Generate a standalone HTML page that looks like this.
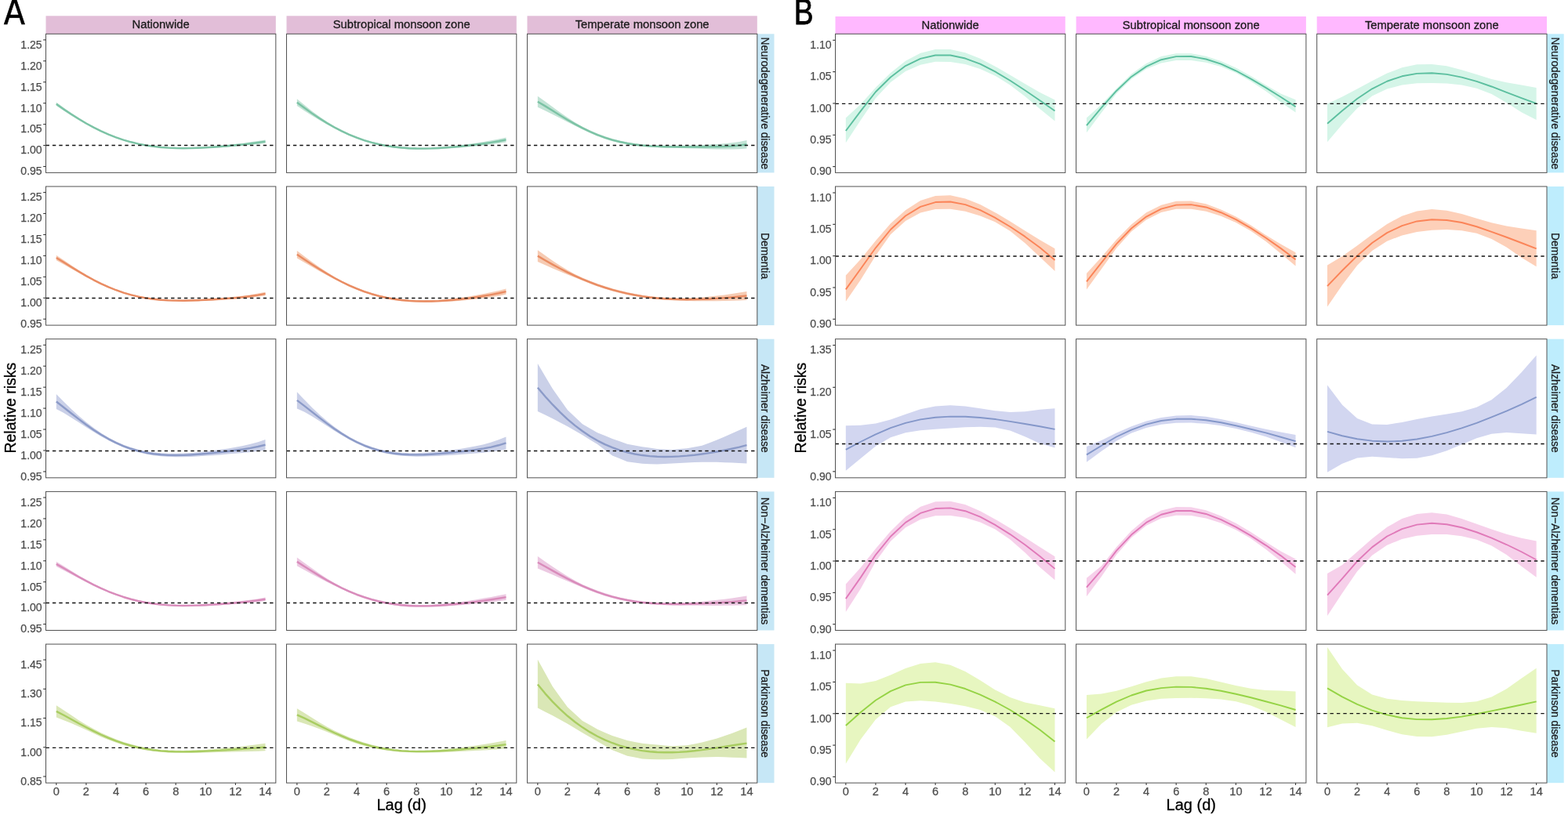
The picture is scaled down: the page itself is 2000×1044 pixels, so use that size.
<!DOCTYPE html>
<html><head><meta charset="utf-8"><title>Relative risks by lag</title>
<style>html,body{margin:0;padding:0;background:#fff;width:2000px;height:1044px;overflow:hidden}</style>
</head><body>
<svg width="2000" height="1044" viewBox="0 0 2000 1044" style="display:block">
<rect width="2000" height="1044" fill="#fff"/>
<text x="0" y="0" style="font-family:'DejaVu Sans','Liberation Sans',sans-serif;font-size:44px" fill="#000" stroke="#000" stroke-width="0.5" transform="translate(4.7 31.2) scale(0.905 1)">A</text>
<text x="0" y="0" style="font-family:'Liberation Sans',Arial,Helvetica,sans-serif;font-size:47px" fill="#000" stroke="#000" stroke-width="0.9" transform="translate(1012.8 30.5) scale(0.79 1)">B</text>
<rect x="58.5" y="20.3" width="293.3" height="23" fill="#e2bed8"/>
<text x="205.15" y="36.4" text-anchor="middle" textLength="73.12" lengthAdjust="spacingAndGlyphs" style="font-family:'Liberation Sans',Arial,Helvetica,sans-serif;font-size:15.2px" fill="#1a1a1a" stroke="#1a1a1a" stroke-width="0.3">Nationwide</text>
<rect x="365.5" y="20.3" width="293.3" height="23" fill="#e2bed8"/>
<text x="512.15" y="36.4" text-anchor="middle" textLength="175.01" lengthAdjust="spacingAndGlyphs" style="font-family:'Liberation Sans',Arial,Helvetica,sans-serif;font-size:15.2px" fill="#1a1a1a" stroke="#1a1a1a" stroke-width="0.3">Subtropical monsoon zone</text>
<rect x="672.5" y="20.3" width="293.3" height="23" fill="#e2bed8"/>
<text x="819.15" y="36.4" text-anchor="middle" textLength="170.89" lengthAdjust="spacingAndGlyphs" style="font-family:'Liberation Sans',Arial,Helvetica,sans-serif;font-size:15.2px" fill="#1a1a1a" stroke="#1a1a1a" stroke-width="0.3">Temperate monsoon zone</text>
<rect x="965.8" y="43.3" width="21.7" height="177.1" fill="#c6e7f6"/>
<text x="0" y="0" text-anchor="middle" textLength="168.78" lengthAdjust="spacingAndGlyphs" transform="translate(971.45 131.85) rotate(90)" style="font-family:'Liberation Sans',Arial,Helvetica,sans-serif;font-size:14.8px" fill="#1a1a1a" stroke="#1a1a1a" stroke-width="0.25">Neurodegenerative disease</text>
<rect x="965.8" y="238" width="21.7" height="177.1" fill="#c6e7f6"/>
<text x="0" y="0" text-anchor="middle" textLength="59.06" lengthAdjust="spacingAndGlyphs" transform="translate(971.45 326.55) rotate(90)" style="font-family:'Liberation Sans',Arial,Helvetica,sans-serif;font-size:14.8px" fill="#1a1a1a" stroke="#1a1a1a" stroke-width="0.25">Dementia</text>
<rect x="965.8" y="432.7" width="21.7" height="177.1" fill="#c6e7f6"/>
<text x="0" y="0" text-anchor="middle" textLength="112.75" lengthAdjust="spacingAndGlyphs" transform="translate(971.45 521.25) rotate(90)" style="font-family:'Liberation Sans',Arial,Helvetica,sans-serif;font-size:14.8px" fill="#1a1a1a" stroke="#1a1a1a" stroke-width="0.25">Alzheimer disease</text>
<rect x="965.8" y="627.4" width="21.7" height="177.1" fill="#c6e7f6"/>
<text x="0" y="0" text-anchor="middle" textLength="162.23" lengthAdjust="spacingAndGlyphs" transform="translate(971.45 715.95) rotate(90)" style="font-family:'Liberation Sans',Arial,Helvetica,sans-serif;font-size:14.8px" fill="#1a1a1a" stroke="#1a1a1a" stroke-width="0.25">Non−Alzheimer dementias</text>
<rect x="965.8" y="822.1" width="21.7" height="177.1" fill="#c6e7f6"/>
<text x="0" y="0" text-anchor="middle" textLength="112.77" lengthAdjust="spacingAndGlyphs" transform="translate(971.45 910.65) rotate(90)" style="font-family:'Liberation Sans',Arial,Helvetica,sans-serif;font-size:14.8px" fill="#1a1a1a" stroke="#1a1a1a" stroke-width="0.25">Parkinson disease</text>
<clipPath id="cA00"><rect x="58.5" y="43.3" width="293.3" height="177.1"/></clipPath>
<g clip-path="url(#cA00)">
<path d="M71.83 130.61 L81.35 137.53 L90.88 144.18 L100.4 150.46 L109.92 156.31 L119.45 161.66 L128.97 166.45 L138.49 170.68 L148.01 174.41 L157.54 177.65 L167.06 180.41 L176.58 182.7 L186.1 184.55 L195.63 185.99 L205.15 187.05 L214.67 187.77 L224.2 188.18 L233.72 188.31 L243.24 188.2 L252.76 187.86 L262.29 187.33 L271.81 186.63 L281.33 185.8 L290.85 184.84 L300.38 183.79 L309.9 182.63 L319.42 181.37 L328.95 179.98 L338.47 178.44 L338.47 182.9 L328.95 184.07 L319.42 185.09 L309.9 186.01 L300.38 186.83 L290.85 187.58 L281.33 188.26 L271.81 188.86 L262.29 189.36 L252.76 189.75 L243.24 190 L233.72 190.08 L224.2 189.94 L214.67 189.53 L205.15 188.82 L195.63 187.76 L186.1 186.32 L176.58 184.47 L167.06 182.17 L157.54 179.42 L148.01 176.18 L138.49 172.44 L128.97 168.22 L119.45 163.58 L109.92 158.56 L100.4 153.17 L90.88 147.42 L81.35 141.36 L71.83 135.03Z" fill="#c2e3d5"/>
<path d="M71.83 132.82 L81.35 139.44 L90.88 145.8 L100.4 151.82 L109.92 157.44 L119.45 162.62 L128.97 167.33 L138.49 171.56 L148.01 175.29 L157.54 178.53 L167.06 181.29 L176.58 183.58 L186.1 185.44 L195.63 186.88 L205.15 187.94 L214.67 188.65 L224.2 189.06 L233.72 189.2 L243.24 189.1 L252.76 188.8 L262.29 188.34 L271.81 187.74 L281.33 187.03 L290.85 186.21 L300.38 185.31 L309.9 184.32 L319.42 183.23 L328.95 182.02 L338.47 180.67" fill="none" stroke="#7cc3a5" stroke-width="2.4" stroke-linejoin="round"/>
<line x1="58.5" x2="351.8" y1="185.5" y2="185.5" stroke="#121212" stroke-width="1.35" stroke-dasharray="4.4 4.0"/>
</g>
<rect x="58.5" y="43.3" width="293.3" height="177.1" fill="none" stroke="#525252" stroke-width="1"/>
<clipPath id="cA01"><rect x="365.5" y="43.3" width="293.3" height="177.1"/></clipPath>
<g clip-path="url(#cA01)">
<path d="M378.83 126.25 L388.35 134.12 L397.88 141.65 L407.4 148.72 L416.92 155.24 L426.45 161.1 L435.97 166.24 L445.49 170.66 L455.01 174.54 L464.54 177.88 L474.06 180.71 L483.58 183.05 L493.1 184.91 L502.63 186.34 L512.15 187.37 L521.67 188.03 L531.2 188.36 L540.72 188.41 L550.24 188.19 L559.76 187.72 L569.29 187.02 L578.81 186.13 L588.33 185.07 L597.85 183.86 L607.38 182.51 L616.9 181.02 L626.42 179.36 L635.95 177.53 L645.47 175.48 L645.47 181.38 L635.95 182.95 L626.42 184.3 L616.9 185.49 L607.38 186.55 L597.85 187.5 L588.33 188.34 L578.81 189.09 L569.29 189.72 L559.76 190.22 L550.24 190.58 L540.72 190.77 L531.2 190.72 L521.67 190.38 L512.15 189.72 L502.63 188.69 L493.1 187.26 L483.58 185.4 L474.06 183.06 L464.54 180.23 L455.01 176.89 L445.49 173.01 L435.97 168.61 L426.45 163.85 L416.92 158.78 L407.4 153.37 L397.88 147.62 L388.35 141.52 L378.83 135.09Z" fill="#c2e3d5"/>
<path d="M378.83 130.67 L388.35 137.82 L397.88 144.63 L407.4 151.05 L416.92 157.01 L426.45 162.47 L435.97 167.42 L445.49 171.84 L455.01 175.71 L464.54 179.06 L474.06 181.89 L483.58 184.22 L493.1 186.09 L502.63 187.52 L512.15 188.54 L521.67 189.2 L531.2 189.54 L540.72 189.59 L550.24 189.39 L559.76 188.97 L569.29 188.37 L578.81 187.61 L588.33 186.71 L597.85 185.68 L607.38 184.53 L616.9 183.25 L626.42 181.83 L635.95 180.24 L645.47 178.43" fill="none" stroke="#7cc3a5" stroke-width="2.4" stroke-linejoin="round"/>
<line x1="365.5" x2="658.8" y1="185.5" y2="185.5" stroke="#121212" stroke-width="1.35" stroke-dasharray="4.4 4.0"/>
</g>
<rect x="365.5" y="43.3" width="293.3" height="177.1" fill="none" stroke="#525252" stroke-width="1"/>
<clipPath id="cA02"><rect x="672.5" y="43.3" width="293.3" height="177.1"/></clipPath>
<g clip-path="url(#cA02)">
<path d="M685.83 122.67 L695.35 129.48 L704.88 136.51 L714.4 143.48 L723.92 150.12 L733.45 156.23 L742.97 161.63 L752.49 166.27 L762.01 170.38 L771.54 173.94 L781.06 176.94 L790.58 179.42 L800.1 181.41 L809.63 182.95 L819.15 184.09 L828.67 184.89 L838.2 185.43 L847.72 185.75 L857.24 185.89 L866.76 185.84 L876.29 185.66 L885.81 185.38 L895.33 185.02 L904.85 184.57 L914.38 184.01 L923.9 183.28 L933.42 182.3 L942.95 180.96 L952.47 179.1 L952.47 189.44 L942.95 190.26 L933.42 190.59 L923.9 190.6 L914.38 190.42 L904.85 190.14 L895.33 189.84 L885.81 189.56 L876.29 189.31 L866.76 189.1 L857.24 188.9 L847.72 188.69 L838.2 188.37 L828.67 187.85 L819.15 187.07 L809.63 185.96 L800.1 184.47 L790.58 182.54 L781.06 180.13 L771.54 177.19 L762.01 173.73 L752.49 169.72 L742.97 165.22 L733.45 160.51 L723.92 155.72 L714.4 150.87 L704.88 146.03 L695.35 141.3 L685.83 136.81Z" fill="#c2e3d5"/>
<path d="M685.83 129.74 L695.35 135.39 L704.88 141.27 L714.4 147.17 L723.92 152.92 L733.45 158.37 L742.97 163.42 L752.49 168 L762.01 172.05 L771.54 175.57 L781.06 178.54 L790.58 180.98 L800.1 182.94 L809.63 184.45 L819.15 185.58 L828.67 186.37 L838.2 186.9 L847.72 187.22 L857.24 187.4 L866.76 187.47 L876.29 187.49 L885.81 187.47 L895.33 187.43 L904.85 187.36 L914.38 187.21 L923.9 186.94 L933.42 186.45 L942.95 185.61 L952.47 184.27" fill="none" stroke="#7cc3a5" stroke-width="2.4" stroke-linejoin="round"/>
<line x1="672.5" x2="965.8" y1="185.5" y2="185.5" stroke="#121212" stroke-width="1.35" stroke-dasharray="4.4 4.0"/>
</g>
<rect x="672.5" y="43.3" width="293.3" height="177.1" fill="none" stroke="#525252" stroke-width="1"/>
<line x1="55.2" x2="58.5" y1="212.5" y2="212.5" stroke="#333" stroke-width="1.1"/>
<text x="53.7" y="223.3" text-anchor="end" textLength="27.4" lengthAdjust="spacingAndGlyphs" style="font-family:'Liberation Sans',Arial,Helvetica,sans-serif;font-size:15.2px" fill="#4d4d4d" stroke="#4d4d4d" stroke-width="0.25">0.95</text>
<line x1="55.2" x2="58.5" y1="185.57" y2="185.57" stroke="#333" stroke-width="1.1"/>
<text x="53.7" y="196.37" text-anchor="end" textLength="27.4" lengthAdjust="spacingAndGlyphs" style="font-family:'Liberation Sans',Arial,Helvetica,sans-serif;font-size:15.2px" fill="#4d4d4d" stroke="#4d4d4d" stroke-width="0.25">1.00</text>
<line x1="55.2" x2="58.5" y1="158.63" y2="158.63" stroke="#333" stroke-width="1.1"/>
<text x="53.7" y="169.43" text-anchor="end" textLength="27.4" lengthAdjust="spacingAndGlyphs" style="font-family:'Liberation Sans',Arial,Helvetica,sans-serif;font-size:15.2px" fill="#4d4d4d" stroke="#4d4d4d" stroke-width="0.25">1.05</text>
<line x1="55.2" x2="58.5" y1="131.7" y2="131.7" stroke="#333" stroke-width="1.1"/>
<text x="53.7" y="142.5" text-anchor="end" textLength="27.4" lengthAdjust="spacingAndGlyphs" style="font-family:'Liberation Sans',Arial,Helvetica,sans-serif;font-size:15.2px" fill="#4d4d4d" stroke="#4d4d4d" stroke-width="0.25">1.10</text>
<line x1="55.2" x2="58.5" y1="104.77" y2="104.77" stroke="#333" stroke-width="1.1"/>
<text x="53.7" y="115.57" text-anchor="end" textLength="27.4" lengthAdjust="spacingAndGlyphs" style="font-family:'Liberation Sans',Arial,Helvetica,sans-serif;font-size:15.2px" fill="#4d4d4d" stroke="#4d4d4d" stroke-width="0.25">1.15</text>
<line x1="55.2" x2="58.5" y1="77.83" y2="77.83" stroke="#333" stroke-width="1.1"/>
<text x="53.7" y="88.63" text-anchor="end" textLength="27.4" lengthAdjust="spacingAndGlyphs" style="font-family:'Liberation Sans',Arial,Helvetica,sans-serif;font-size:15.2px" fill="#4d4d4d" stroke="#4d4d4d" stroke-width="0.25">1.20</text>
<line x1="55.2" x2="58.5" y1="50.9" y2="50.9" stroke="#333" stroke-width="1.1"/>
<text x="53.7" y="61.7" text-anchor="end" textLength="27.4" lengthAdjust="spacingAndGlyphs" style="font-family:'Liberation Sans',Arial,Helvetica,sans-serif;font-size:15.2px" fill="#4d4d4d" stroke="#4d4d4d" stroke-width="0.25">1.25</text>
<clipPath id="cA10"><rect x="58.5" y="238" width="293.3" height="177.1"/></clipPath>
<g clip-path="url(#cA10)">
<path d="M71.83 325.76 L81.35 332.1 L90.88 338.49 L100.4 344.73 L109.92 350.66 L119.45 356.14 L128.97 361.06 L138.49 365.39 L148.01 369.21 L157.54 372.51 L167.06 375.29 L176.58 377.57 L186.1 379.37 L195.63 380.73 L205.15 381.69 L214.67 382.3 L224.2 382.6 L233.72 382.66 L243.24 382.49 L252.76 382.14 L262.29 381.63 L271.81 381 L281.33 380.27 L290.85 379.44 L300.38 378.49 L309.9 377.41 L319.42 376.13 L328.95 374.6 L338.47 372.7 L338.47 377.13 L328.95 378.7 L319.42 379.92 L309.9 380.88 L300.38 381.68 L290.85 382.35 L281.33 382.94 L271.81 383.46 L262.29 383.92 L252.76 384.3 L243.24 384.58 L233.72 384.71 L224.2 384.66 L214.67 384.35 L205.15 383.75 L195.63 382.78 L186.1 381.42 L176.58 379.62 L167.06 377.35 L157.54 374.57 L148.01 371.27 L138.49 367.45 L128.97 363.13 L119.45 358.47 L109.92 353.53 L100.4 348.36 L90.88 343.01 L81.35 337.6 L71.83 332.24Z" fill="#f6cbb3"/>
<path d="M71.83 329 L81.35 334.85 L90.88 340.75 L100.4 346.54 L109.92 352.1 L119.45 357.31 L128.97 362.1 L138.49 366.42 L148.01 370.24 L157.54 373.54 L167.06 376.32 L176.58 378.6 L186.1 380.4 L195.63 381.76 L205.15 382.72 L214.67 383.33 L224.2 383.63 L233.72 383.69 L243.24 383.53 L252.76 383.22 L262.29 382.78 L271.81 382.23 L281.33 381.6 L290.85 380.89 L300.38 380.08 L309.9 379.15 L319.42 378.03 L328.95 376.65 L338.47 374.91" fill="none" stroke="#e98c63" stroke-width="2.4" stroke-linejoin="round"/>
<line x1="58.5" x2="351.8" y1="380.5" y2="380.5" stroke="#121212" stroke-width="1.35" stroke-dasharray="4.4 4.0"/>
</g>
<rect x="58.5" y="238" width="293.3" height="177.1" fill="none" stroke="#525252" stroke-width="1"/>
<clipPath id="cA11"><rect x="365.5" y="238" width="293.3" height="177.1"/></clipPath>
<g clip-path="url(#cA11)">
<path d="M378.83 320.1 L388.35 327.17 L397.88 334.17 L407.4 340.94 L416.92 347.31 L426.45 353.18 L435.97 358.42 L445.49 363.03 L455.01 367.15 L464.54 370.77 L474.06 373.9 L483.58 376.54 L493.1 378.7 L502.63 380.4 L512.15 381.67 L521.67 382.55 L531.2 383.06 L540.72 383.25 L550.24 383.11 L559.76 382.66 L569.29 381.94 L578.81 380.97 L588.33 379.78 L597.85 378.39 L607.38 376.82 L616.9 375.05 L626.42 373.1 L635.95 370.92 L645.47 368.48 L645.47 375.86 L635.95 377.65 L626.42 379.19 L616.9 380.54 L607.38 381.71 L597.85 382.75 L588.33 383.65 L578.81 384.42 L569.29 385.05 L559.76 385.52 L550.24 385.81 L540.72 385.89 L531.2 385.71 L521.67 385.2 L512.15 384.32 L502.63 383.05 L493.1 381.34 L483.58 379.18 L474.06 376.55 L464.54 373.42 L455.01 369.79 L445.49 365.67 L435.97 361.09 L426.45 356.24 L416.92 351.21 L407.4 345.99 L397.88 340.6 L388.35 335.1 L378.83 329.53Z" fill="#f6cbb3"/>
<path d="M378.83 324.81 L388.35 331.13 L397.88 337.39 L407.4 343.46 L416.92 349.26 L426.45 354.71 L435.97 359.76 L445.49 364.35 L455.01 368.47 L464.54 372.1 L474.06 375.22 L483.58 377.86 L493.1 380.02 L502.63 381.72 L512.15 383 L521.67 383.87 L531.2 384.39 L540.72 384.57 L550.24 384.46 L559.76 384.09 L569.29 383.49 L578.81 382.7 L588.33 381.72 L597.85 380.57 L607.38 379.27 L616.9 377.79 L626.42 376.14 L635.95 374.28 L645.47 372.17" fill="none" stroke="#e98c63" stroke-width="2.4" stroke-linejoin="round"/>
<line x1="365.5" x2="658.8" y1="380.5" y2="380.5" stroke="#121212" stroke-width="1.35" stroke-dasharray="4.4 4.0"/>
</g>
<rect x="365.5" y="238" width="293.3" height="177.1" fill="none" stroke="#525252" stroke-width="1"/>
<clipPath id="cA12"><rect x="672.5" y="238" width="293.3" height="177.1"/></clipPath>
<g clip-path="url(#cA12)">
<path d="M685.83 319.24 L695.35 326.07 L704.88 332.66 L714.4 338.91 L723.92 344.71 L733.45 349.95 L742.97 354.53 L752.49 358.5 L762.01 362.11 L771.54 365.37 L781.06 368.28 L790.58 370.86 L800.1 373.1 L809.63 375.03 L819.15 376.64 L828.67 377.96 L838.2 379 L847.72 379.77 L857.24 380.27 L866.76 380.45 L876.29 380.34 L885.81 379.98 L895.33 379.38 L904.85 378.56 L914.38 377.56 L923.9 376.39 L933.42 375.06 L942.95 373.6 L952.47 372.01 L952.47 382.94 L942.95 383.41 L933.42 383.79 L923.9 384.07 L914.38 384.26 L904.85 384.35 L895.33 384.35 L885.81 384.26 L876.29 384.05 L866.76 383.73 L857.24 383.29 L847.72 382.71 L838.2 381.94 L828.67 380.92 L819.15 379.62 L809.63 378.04 L800.1 376.17 L790.58 373.98 L781.06 371.46 L771.54 368.62 L762.01 365.45 L752.49 361.95 L742.97 358.12 L733.45 354.26 L723.92 350.41 L714.4 346.51 L704.88 342.51 L695.35 338.34 L685.83 333.97Z" fill="#f6cbb3"/>
<path d="M685.83 326.6 L695.35 332.2 L704.88 337.59 L714.4 342.71 L723.92 347.56 L733.45 352.1 L742.97 356.33 L752.49 360.22 L762.01 363.78 L771.54 367 L781.06 369.87 L790.58 372.42 L800.1 374.63 L809.63 376.53 L819.15 378.13 L828.67 379.44 L838.2 380.47 L847.72 381.24 L857.24 381.78 L866.76 382.09 L876.29 382.2 L885.81 382.12 L895.33 381.86 L904.85 381.46 L914.38 380.91 L923.9 380.23 L933.42 379.43 L942.95 378.51 L952.47 377.48" fill="none" stroke="#e98c63" stroke-width="2.4" stroke-linejoin="round"/>
<line x1="672.5" x2="965.8" y1="380.5" y2="380.5" stroke="#121212" stroke-width="1.35" stroke-dasharray="4.4 4.0"/>
</g>
<rect x="672.5" y="238" width="293.3" height="177.1" fill="none" stroke="#525252" stroke-width="1"/>
<line x1="55.2" x2="58.5" y1="407.2" y2="407.2" stroke="#333" stroke-width="1.1"/>
<text x="53.7" y="418" text-anchor="end" textLength="27.4" lengthAdjust="spacingAndGlyphs" style="font-family:'Liberation Sans',Arial,Helvetica,sans-serif;font-size:15.2px" fill="#4d4d4d" stroke="#4d4d4d" stroke-width="0.25">0.95</text>
<line x1="55.2" x2="58.5" y1="380.27" y2="380.27" stroke="#333" stroke-width="1.1"/>
<text x="53.7" y="391.07" text-anchor="end" textLength="27.4" lengthAdjust="spacingAndGlyphs" style="font-family:'Liberation Sans',Arial,Helvetica,sans-serif;font-size:15.2px" fill="#4d4d4d" stroke="#4d4d4d" stroke-width="0.25">1.00</text>
<line x1="55.2" x2="58.5" y1="353.33" y2="353.33" stroke="#333" stroke-width="1.1"/>
<text x="53.7" y="364.13" text-anchor="end" textLength="27.4" lengthAdjust="spacingAndGlyphs" style="font-family:'Liberation Sans',Arial,Helvetica,sans-serif;font-size:15.2px" fill="#4d4d4d" stroke="#4d4d4d" stroke-width="0.25">1.05</text>
<line x1="55.2" x2="58.5" y1="326.4" y2="326.4" stroke="#333" stroke-width="1.1"/>
<text x="53.7" y="337.2" text-anchor="end" textLength="27.4" lengthAdjust="spacingAndGlyphs" style="font-family:'Liberation Sans',Arial,Helvetica,sans-serif;font-size:15.2px" fill="#4d4d4d" stroke="#4d4d4d" stroke-width="0.25">1.10</text>
<line x1="55.2" x2="58.5" y1="299.47" y2="299.47" stroke="#333" stroke-width="1.1"/>
<text x="53.7" y="310.27" text-anchor="end" textLength="27.4" lengthAdjust="spacingAndGlyphs" style="font-family:'Liberation Sans',Arial,Helvetica,sans-serif;font-size:15.2px" fill="#4d4d4d" stroke="#4d4d4d" stroke-width="0.25">1.15</text>
<line x1="55.2" x2="58.5" y1="272.53" y2="272.53" stroke="#333" stroke-width="1.1"/>
<text x="53.7" y="283.33" text-anchor="end" textLength="27.4" lengthAdjust="spacingAndGlyphs" style="font-family:'Liberation Sans',Arial,Helvetica,sans-serif;font-size:15.2px" fill="#4d4d4d" stroke="#4d4d4d" stroke-width="0.25">1.20</text>
<line x1="55.2" x2="58.5" y1="245.6" y2="245.6" stroke="#333" stroke-width="1.1"/>
<text x="53.7" y="256.4" text-anchor="end" textLength="27.4" lengthAdjust="spacingAndGlyphs" style="font-family:'Liberation Sans',Arial,Helvetica,sans-serif;font-size:15.2px" fill="#4d4d4d" stroke="#4d4d4d" stroke-width="0.25">1.25</text>
<clipPath id="cA20"><rect x="58.5" y="432.7" width="293.3" height="177.1"/></clipPath>
<g clip-path="url(#cA20)">
<path d="M71.83 502.98 L81.35 512.79 L90.88 522.1 L100.4 530.73 L109.92 538.74 L119.45 546.11 L128.97 552.73 L138.49 558.57 L148.01 563.56 L157.54 567.69 L167.06 571.1 L176.58 573.82 L186.1 575.88 L195.63 577.36 L205.15 578.3 L214.67 578.78 L224.2 578.84 L233.72 578.56 L243.24 577.99 L252.76 577.19 L262.29 576.22 L271.81 575.09 L281.33 573.81 L290.85 572.39 L300.38 570.8 L309.9 568.97 L319.42 566.8 L328.95 564.22 L338.47 561.12 L338.47 574.32 L328.95 575.83 L319.42 576.99 L309.9 577.94 L300.38 578.8 L290.85 579.62 L281.33 580.39 L271.81 581.13 L262.29 581.82 L252.76 582.44 L243.24 582.92 L233.72 583.2 L224.2 583.24 L214.67 582.97 L205.15 582.3 L195.63 581.17 L186.1 579.52 L176.58 577.28 L167.06 574.43 L157.54 570.93 L148.01 566.76 L138.49 562.09 L128.97 556.93 L119.45 551.3 L109.92 545.34 L100.4 539.11 L90.88 532.9 L81.35 527.11 L71.83 521.98Z" fill="#cad0e8"/>
<path d="M71.83 512.48 L81.35 519.95 L90.88 527.5 L100.4 534.92 L109.92 542.04 L119.45 548.71 L128.97 554.83 L138.49 560.33 L148.01 565.16 L157.54 569.31 L167.06 572.76 L176.58 575.55 L186.1 577.7 L195.63 579.27 L205.15 580.3 L214.67 580.87 L224.2 581.04 L233.72 580.88 L243.24 580.45 L252.76 579.82 L262.29 579.02 L271.81 578.11 L281.33 577.1 L290.85 576 L300.38 574.8 L309.9 573.45 L319.42 571.89 L328.95 570.03 L338.47 567.72" fill="none" stroke="#8c9bc8" stroke-width="2.4" stroke-linejoin="round"/>
<line x1="58.5" x2="351.8" y1="575.5" y2="575.5" stroke="#121212" stroke-width="1.35" stroke-dasharray="4.4 4.0"/>
</g>
<rect x="58.5" y="432.7" width="293.3" height="177.1" fill="none" stroke="#525252" stroke-width="1"/>
<clipPath id="cA21"><rect x="365.5" y="432.7" width="293.3" height="177.1"/></clipPath>
<g clip-path="url(#cA21)">
<path d="M378.83 500.23 L388.35 510.37 L397.88 520.03 L407.4 529 L416.92 537.29 L426.45 544.82 L435.97 551.55 L445.49 557.45 L455.01 562.53 L464.54 566.8 L474.06 570.33 L483.58 573.13 L493.1 575.26 L502.63 576.77 L512.15 577.73 L521.67 578.18 L531.2 578.2 L540.72 577.86 L550.24 577.22 L559.76 576.36 L569.29 575.32 L578.81 574.1 L588.33 572.7 L597.85 571.11 L607.38 569.3 L616.9 567.16 L626.42 564.53 L635.95 561.32 L645.47 557.38 L645.47 573.38 L635.95 575.26 L626.42 576.6 L616.9 577.63 L607.38 578.5 L597.85 579.29 L588.33 580 L578.81 580.67 L569.29 581.32 L559.76 581.89 L550.24 582.34 L540.72 582.61 L531.2 582.64 L521.67 582.37 L512.15 581.73 L502.63 580.62 L493.1 578.97 L483.58 576.72 L474.06 573.81 L464.54 570.22 L455.01 565.93 L445.49 561.03 L435.97 555.55 L426.45 549.66 L416.92 543.49 L407.4 537.25 L397.88 531.23 L388.35 525.84 L378.83 521.43Z" fill="#cad0e8"/>
<path d="M378.83 510.83 L388.35 518.11 L397.88 525.63 L407.4 533.13 L416.92 540.39 L426.45 547.24 L435.97 553.55 L445.49 559.24 L455.01 564.23 L464.54 568.51 L474.06 572.07 L483.58 574.93 L493.1 577.12 L502.63 578.7 L512.15 579.73 L521.67 580.28 L531.2 580.42 L540.72 580.23 L550.24 579.78 L559.76 579.13 L569.29 578.32 L578.81 577.39 L588.33 576.35 L597.85 575.2 L607.38 573.9 L616.9 572.39 L626.42 570.57 L635.95 568.29 L645.47 565.38" fill="none" stroke="#8c9bc8" stroke-width="2.4" stroke-linejoin="round"/>
<line x1="365.5" x2="658.8" y1="575.5" y2="575.5" stroke="#121212" stroke-width="1.35" stroke-dasharray="4.4 4.0"/>
</g>
<rect x="365.5" y="432.7" width="293.3" height="177.1" fill="none" stroke="#525252" stroke-width="1"/>
<clipPath id="cA22"><rect x="672.5" y="432.7" width="293.3" height="177.1"/></clipPath>
<g clip-path="url(#cA22)">
<path d="M685.83 463.96 L695.35 480.15 L704.88 496.33 L714.4 509.78 L723.92 523.22 L733.45 532.3 L742.97 541.37 L752.49 546.81 L762.01 552.26 L771.54 556.08 L781.06 559.91 L790.58 563.3 L800.1 566.7 L809.63 568.41 L819.15 570.13 L828.67 571.59 L838.2 573.04 L847.72 573.56 L857.24 574.07 L866.76 573.11 L876.29 572.16 L885.81 570.49 L895.33 568.81 L904.85 565.18 L914.38 561.55 L923.9 557.39 L933.42 553.22 L942.95 549.02 L952.47 544.82 L952.47 591.41 L942.95 590.96 L933.42 590.51 L923.9 590.19 L914.38 589.87 L904.85 589.77 L895.33 589.68 L885.81 590.07 L876.29 590.46 L866.76 590.97 L857.24 591.47 L847.72 592.04 L838.2 592.61 L828.67 592.24 L819.15 591.87 L809.63 590.6 L800.1 589.34 L790.58 585.36 L781.06 581.38 L771.54 574.15 L762.01 566.92 L752.49 561.13 L742.97 555.35 L733.45 549.85 L723.92 544.35 L714.4 539.26 L704.88 534.17 L695.35 529.57 L685.83 524.97Z" fill="#cad0e8"/>
<path d="M685.83 494.65 L695.35 505.94 L704.88 516.46 L714.4 526.17 L723.92 535.05 L733.45 543.1 L742.97 550.31 L752.49 556.71 L762.01 562.3 L771.54 567.13 L781.06 571.21 L790.58 574.61 L800.1 577.35 L809.63 579.48 L819.15 581.06 L828.67 582.14 L838.2 582.77 L847.72 582.99 L857.24 582.85 L866.76 582.4 L876.29 581.67 L885.81 580.7 L895.33 579.51 L904.85 578.12 L914.38 576.54 L923.9 574.77 L933.42 572.8 L942.95 570.61 L952.47 568.15" fill="none" stroke="#8c9bc8" stroke-width="2.4" stroke-linejoin="round"/>
<line x1="672.5" x2="965.8" y1="575.5" y2="575.5" stroke="#121212" stroke-width="1.35" stroke-dasharray="4.4 4.0"/>
</g>
<rect x="672.5" y="432.7" width="293.3" height="177.1" fill="none" stroke="#525252" stroke-width="1"/>
<line x1="55.2" x2="58.5" y1="601.9" y2="601.9" stroke="#333" stroke-width="1.1"/>
<text x="53.7" y="612.7" text-anchor="end" textLength="27.4" lengthAdjust="spacingAndGlyphs" style="font-family:'Liberation Sans',Arial,Helvetica,sans-serif;font-size:15.2px" fill="#4d4d4d" stroke="#4d4d4d" stroke-width="0.25">0.95</text>
<line x1="55.2" x2="58.5" y1="574.97" y2="574.97" stroke="#333" stroke-width="1.1"/>
<text x="53.7" y="585.77" text-anchor="end" textLength="27.4" lengthAdjust="spacingAndGlyphs" style="font-family:'Liberation Sans',Arial,Helvetica,sans-serif;font-size:15.2px" fill="#4d4d4d" stroke="#4d4d4d" stroke-width="0.25">1.00</text>
<line x1="55.2" x2="58.5" y1="548.03" y2="548.03" stroke="#333" stroke-width="1.1"/>
<text x="53.7" y="558.83" text-anchor="end" textLength="27.4" lengthAdjust="spacingAndGlyphs" style="font-family:'Liberation Sans',Arial,Helvetica,sans-serif;font-size:15.2px" fill="#4d4d4d" stroke="#4d4d4d" stroke-width="0.25">1.05</text>
<line x1="55.2" x2="58.5" y1="521.1" y2="521.1" stroke="#333" stroke-width="1.1"/>
<text x="53.7" y="531.9" text-anchor="end" textLength="27.4" lengthAdjust="spacingAndGlyphs" style="font-family:'Liberation Sans',Arial,Helvetica,sans-serif;font-size:15.2px" fill="#4d4d4d" stroke="#4d4d4d" stroke-width="0.25">1.10</text>
<line x1="55.2" x2="58.5" y1="494.17" y2="494.17" stroke="#333" stroke-width="1.1"/>
<text x="53.7" y="504.97" text-anchor="end" textLength="27.4" lengthAdjust="spacingAndGlyphs" style="font-family:'Liberation Sans',Arial,Helvetica,sans-serif;font-size:15.2px" fill="#4d4d4d" stroke="#4d4d4d" stroke-width="0.25">1.15</text>
<line x1="55.2" x2="58.5" y1="467.23" y2="467.23" stroke="#333" stroke-width="1.1"/>
<text x="53.7" y="478.03" text-anchor="end" textLength="27.4" lengthAdjust="spacingAndGlyphs" style="font-family:'Liberation Sans',Arial,Helvetica,sans-serif;font-size:15.2px" fill="#4d4d4d" stroke="#4d4d4d" stroke-width="0.25">1.20</text>
<line x1="55.2" x2="58.5" y1="440.3" y2="440.3" stroke="#333" stroke-width="1.1"/>
<text x="53.7" y="451.1" text-anchor="end" textLength="27.4" lengthAdjust="spacingAndGlyphs" style="font-family:'Liberation Sans',Arial,Helvetica,sans-serif;font-size:15.2px" fill="#4d4d4d" stroke="#4d4d4d" stroke-width="0.25">1.25</text>
<clipPath id="cA30"><rect x="58.5" y="627.4" width="293.3" height="177.1"/></clipPath>
<g clip-path="url(#cA30)">
<path d="M71.83 716.63 L81.35 722.57 L90.88 728.55 L100.4 734.4 L109.92 739.97 L119.45 745.15 L128.97 749.83 L138.49 753.99 L148.01 757.7 L157.54 760.95 L167.06 763.74 L176.58 766.08 L186.1 767.97 L195.63 769.45 L205.15 770.55 L214.67 771.3 L224.2 771.74 L233.72 771.91 L243.24 771.83 L252.76 771.54 L262.29 771.06 L271.81 770.43 L281.33 769.67 L290.85 768.8 L300.38 767.83 L309.9 766.75 L319.42 765.53 L328.95 764.16 L338.47 762.57 L338.47 766.99 L328.95 768.26 L319.42 769.32 L309.9 770.22 L300.38 771.01 L290.85 771.71 L281.33 772.34 L271.81 772.89 L262.29 773.35 L252.76 773.7 L243.24 773.91 L233.72 773.96 L224.2 773.8 L214.67 773.36 L205.15 772.61 L195.63 771.51 L186.1 770.03 L176.58 768.13 L167.06 765.8 L157.54 763.01 L148.01 759.75 L138.49 756.04 L128.97 751.9 L119.45 747.48 L109.92 742.84 L100.4 738.02 L90.88 733.07 L81.35 728.07 L71.83 723.11Z" fill="#ecc9e2"/>
<path d="M71.83 719.87 L81.35 725.32 L90.88 730.81 L100.4 736.21 L109.92 741.41 L119.45 746.31 L128.97 750.87 L138.49 755.01 L148.01 758.72 L157.54 761.98 L167.06 764.77 L176.58 767.1 L186.1 769 L195.63 770.48 L205.15 771.58 L214.67 772.33 L224.2 772.77 L233.72 772.94 L243.24 772.87 L252.76 772.62 L262.29 772.2 L271.81 771.66 L281.33 771 L290.85 770.26 L300.38 769.42 L309.9 768.48 L319.42 767.43 L328.95 766.21 L338.47 764.78" fill="none" stroke="#d98cbb" stroke-width="2.4" stroke-linejoin="round"/>
<line x1="58.5" x2="351.8" y1="769.5" y2="769.5" stroke="#121212" stroke-width="1.35" stroke-dasharray="4.4 4.0"/>
</g>
<rect x="58.5" y="627.4" width="293.3" height="177.1" fill="none" stroke="#525252" stroke-width="1"/>
<clipPath id="cA31"><rect x="365.5" y="627.4" width="293.3" height="177.1"/></clipPath>
<g clip-path="url(#cA31)">
<path d="M378.83 711.42 L388.35 718.43 L397.88 725.34 L407.4 731.99 L416.92 738.23 L426.45 743.94 L435.97 748.99 L445.49 753.38 L455.01 757.29 L464.54 760.71 L474.06 763.65 L483.58 766.11 L493.1 768.1 L502.63 769.64 L512.15 770.76 L521.67 771.49 L531.2 771.86 L540.72 771.92 L550.24 771.67 L559.76 771.12 L569.29 770.32 L578.81 769.29 L588.33 768.08 L597.85 766.71 L607.38 765.22 L616.9 763.61 L626.42 761.9 L635.95 760.08 L645.47 758.14 L645.47 766.11 L635.95 767.36 L626.42 768.51 L616.9 769.56 L607.38 770.55 L597.85 771.47 L588.33 772.32 L578.81 773.09 L569.29 773.75 L559.76 774.29 L550.24 774.67 L540.72 774.86 L531.2 774.8 L521.67 774.43 L512.15 773.7 L502.63 772.58 L493.1 771.04 L483.58 769.05 L474.06 766.59 L464.54 763.65 L455.01 760.23 L445.49 756.32 L435.97 751.95 L426.45 747.37 L416.92 742.64 L407.4 737.75 L397.88 732.72 L388.35 727.56 L378.83 722.32Z" fill="#ecc9e2"/>
<path d="M378.83 716.87 L388.35 722.99 L397.88 729.03 L407.4 734.87 L416.92 740.44 L426.45 745.66 L435.97 750.47 L445.49 754.85 L455.01 758.76 L464.54 762.18 L474.06 765.12 L483.58 767.58 L493.1 769.57 L502.63 771.11 L512.15 772.23 L521.67 772.96 L531.2 773.33 L540.72 773.39 L550.24 773.17 L559.76 772.7 L569.29 772.03 L578.81 771.19 L588.33 770.2 L597.85 769.09 L607.38 767.89 L616.9 766.59 L626.42 765.2 L635.95 763.72 L645.47 762.13" fill="none" stroke="#d98cbb" stroke-width="2.4" stroke-linejoin="round"/>
<line x1="365.5" x2="658.8" y1="769.5" y2="769.5" stroke="#121212" stroke-width="1.35" stroke-dasharray="4.4 4.0"/>
</g>
<rect x="365.5" y="627.4" width="293.3" height="177.1" fill="none" stroke="#525252" stroke-width="1"/>
<clipPath id="cA32"><rect x="672.5" y="627.4" width="293.3" height="177.1"/></clipPath>
<g clip-path="url(#cA32)">
<path d="M685.83 710.09 L695.35 716.65 L704.88 723.22 L714.4 729.6 L723.92 735.61 L733.45 741.09 L742.97 745.92 L752.49 750.07 L762.01 753.8 L771.54 757.1 L781.06 759.97 L790.58 762.41 L800.1 764.43 L809.63 766.07 L819.15 767.34 L828.67 768.29 L838.2 768.94 L847.72 769.34 L857.24 769.47 L866.76 769.34 L876.29 768.96 L885.81 768.39 L895.33 767.66 L904.85 766.79 L914.38 765.78 L923.9 764.66 L933.42 763.41 L942.95 762 L952.47 760.42 L952.47 772.23 L942.95 772.57 L933.42 772.76 L923.9 772.85 L914.38 772.88 L904.85 772.88 L895.33 772.85 L885.81 772.81 L876.29 772.75 L866.76 772.65 L857.24 772.5 L847.72 772.28 L838.2 771.89 L828.67 771.26 L819.15 770.35 L809.63 769.13 L800.1 767.56 L790.58 765.62 L781.06 763.28 L771.54 760.53 L762.01 757.36 L752.49 753.78 L742.97 749.81 L733.45 745.77 L723.92 741.72 L714.4 737.65 L704.88 733.56 L695.35 729.47 L685.83 725.41Z" fill="#ecc9e2"/>
<path d="M685.83 717.75 L695.35 723.06 L704.88 728.39 L714.4 733.62 L723.92 738.66 L733.45 743.43 L742.97 747.87 L752.49 751.93 L762.01 755.58 L771.54 758.81 L781.06 761.62 L790.58 764.01 L800.1 766 L809.63 767.6 L819.15 768.85 L828.67 769.77 L838.2 770.41 L847.72 770.81 L857.24 770.99 L866.76 771 L876.29 770.86 L885.81 770.6 L895.33 770.26 L904.85 769.83 L914.38 769.33 L923.9 768.76 L933.42 768.08 L942.95 767.29 L952.47 766.32" fill="none" stroke="#d98cbb" stroke-width="2.4" stroke-linejoin="round"/>
<line x1="672.5" x2="965.8" y1="769.5" y2="769.5" stroke="#121212" stroke-width="1.35" stroke-dasharray="4.4 4.0"/>
</g>
<rect x="672.5" y="627.4" width="293.3" height="177.1" fill="none" stroke="#525252" stroke-width="1"/>
<line x1="55.2" x2="58.5" y1="796.6" y2="796.6" stroke="#333" stroke-width="1.1"/>
<text x="53.7" y="807.4" text-anchor="end" textLength="27.4" lengthAdjust="spacingAndGlyphs" style="font-family:'Liberation Sans',Arial,Helvetica,sans-serif;font-size:15.2px" fill="#4d4d4d" stroke="#4d4d4d" stroke-width="0.25">0.95</text>
<line x1="55.2" x2="58.5" y1="769.67" y2="769.67" stroke="#333" stroke-width="1.1"/>
<text x="53.7" y="780.47" text-anchor="end" textLength="27.4" lengthAdjust="spacingAndGlyphs" style="font-family:'Liberation Sans',Arial,Helvetica,sans-serif;font-size:15.2px" fill="#4d4d4d" stroke="#4d4d4d" stroke-width="0.25">1.00</text>
<line x1="55.2" x2="58.5" y1="742.73" y2="742.73" stroke="#333" stroke-width="1.1"/>
<text x="53.7" y="753.53" text-anchor="end" textLength="27.4" lengthAdjust="spacingAndGlyphs" style="font-family:'Liberation Sans',Arial,Helvetica,sans-serif;font-size:15.2px" fill="#4d4d4d" stroke="#4d4d4d" stroke-width="0.25">1.05</text>
<line x1="55.2" x2="58.5" y1="715.8" y2="715.8" stroke="#333" stroke-width="1.1"/>
<text x="53.7" y="726.6" text-anchor="end" textLength="27.4" lengthAdjust="spacingAndGlyphs" style="font-family:'Liberation Sans',Arial,Helvetica,sans-serif;font-size:15.2px" fill="#4d4d4d" stroke="#4d4d4d" stroke-width="0.25">1.10</text>
<line x1="55.2" x2="58.5" y1="688.87" y2="688.87" stroke="#333" stroke-width="1.1"/>
<text x="53.7" y="699.67" text-anchor="end" textLength="27.4" lengthAdjust="spacingAndGlyphs" style="font-family:'Liberation Sans',Arial,Helvetica,sans-serif;font-size:15.2px" fill="#4d4d4d" stroke="#4d4d4d" stroke-width="0.25">1.15</text>
<line x1="55.2" x2="58.5" y1="661.93" y2="661.93" stroke="#333" stroke-width="1.1"/>
<text x="53.7" y="672.73" text-anchor="end" textLength="27.4" lengthAdjust="spacingAndGlyphs" style="font-family:'Liberation Sans',Arial,Helvetica,sans-serif;font-size:15.2px" fill="#4d4d4d" stroke="#4d4d4d" stroke-width="0.25">1.20</text>
<line x1="55.2" x2="58.5" y1="635" y2="635" stroke="#333" stroke-width="1.1"/>
<text x="53.7" y="645.8" text-anchor="end" textLength="27.4" lengthAdjust="spacingAndGlyphs" style="font-family:'Liberation Sans',Arial,Helvetica,sans-serif;font-size:15.2px" fill="#4d4d4d" stroke="#4d4d4d" stroke-width="0.25">1.25</text>
<clipPath id="cA40"><rect x="58.5" y="822.1" width="293.3" height="177.1"/></clipPath>
<g clip-path="url(#cA40)">
<path d="M71.83 900.19 L81.35 906.42 L90.88 912.84 L100.4 919.14 L109.92 925.04 L119.45 930.32 L128.97 935.14 L138.49 939.54 L148.01 943.48 L157.54 946.93 L167.06 949.87 L176.58 952.31 L186.1 954.27 L195.63 955.76 L205.15 956.83 L214.67 957.51 L224.2 957.86 L233.72 957.9 L243.24 957.68 L252.76 957.26 L262.29 956.68 L271.81 955.97 L281.33 955.17 L290.85 954.31 L300.38 953.39 L309.9 952.4 L319.42 951.32 L328.95 950.12 L338.47 948.72 L338.47 958.18 L328.95 958.65 L319.42 958.99 L309.9 959.26 L300.38 959.51 L290.85 959.76 L281.33 960.03 L271.81 960.29 L262.29 960.55 L252.76 960.77 L243.24 960.92 L233.72 960.95 L224.2 960.81 L214.67 960.46 L205.15 959.83 L195.63 958.87 L186.1 957.53 L176.58 955.78 L167.06 953.6 L157.54 950.96 L148.01 947.87 L138.49 944.33 L128.97 940.38 L119.45 936.06 L109.92 931.56 L100.4 927.24 L90.88 923.1 L81.35 919.18 L71.83 915.51Z" fill="#dae7b6"/>
<path d="M71.83 907.85 L81.35 912.8 L90.88 917.97 L100.4 923.19 L109.92 928.3 L119.45 933.19 L128.97 937.76 L138.49 941.94 L148.01 945.68 L157.54 948.95 L167.06 951.74 L176.58 954.05 L186.1 955.9 L195.63 957.31 L205.15 958.33 L214.67 958.99 L224.2 959.33 L233.72 959.42 L243.24 959.3 L252.76 959.02 L262.29 958.61 L271.81 958.13 L281.33 957.6 L290.85 957.04 L300.38 956.45 L309.9 955.83 L319.42 955.16 L328.95 954.39 L338.47 953.45" fill="none" stroke="#a9cd62" stroke-width="2.4" stroke-linejoin="round"/>
<line x1="58.5" x2="351.8" y1="954.3" y2="954.3" stroke="#121212" stroke-width="1.35" stroke-dasharray="4.4 4.0"/>
</g>
<rect x="58.5" y="822.1" width="293.3" height="177.1" fill="none" stroke="#525252" stroke-width="1"/>
<clipPath id="cA41"><rect x="365.5" y="822.1" width="293.3" height="177.1"/></clipPath>
<g clip-path="url(#cA41)">
<path d="M378.83 904.19 L388.35 910.02 L397.88 916.05 L407.4 921.98 L416.92 927.5 L426.45 932.39 L435.97 936.84 L445.49 940.92 L455.01 944.57 L464.54 947.76 L474.06 950.49 L483.58 952.74 L493.1 954.53 L502.63 955.88 L512.15 956.83 L521.67 957.4 L531.2 957.64 L540.72 957.56 L550.24 957.21 L559.76 956.63 L569.29 955.86 L578.81 954.94 L588.33 953.88 L597.85 952.72 L607.38 951.45 L616.9 950.07 L626.42 948.55 L635.95 946.86 L645.47 944.92 L645.47 955.25 L635.95 956.17 L626.42 956.89 L616.9 957.51 L607.38 958.05 L597.85 958.55 L588.33 959.03 L578.81 959.48 L569.29 959.89 L559.76 960.23 L550.24 960.49 L540.72 960.62 L531.2 960.59 L521.67 960.35 L512.15 959.83 L502.63 958.99 L493.1 957.79 L483.58 956.2 L474.06 954.2 L464.54 951.78 L455.01 948.94 L445.49 945.69 L435.97 942.07 L426.45 938.12 L416.92 934.05 L407.4 930.25 L397.88 926.7 L388.35 923.4 L378.83 920.39Z" fill="#dae7b6"/>
<path d="M378.83 912.29 L388.35 916.71 L397.88 921.37 L407.4 926.11 L416.92 930.78 L426.45 935.26 L435.97 939.46 L445.49 943.3 L455.01 946.75 L464.54 949.77 L474.06 952.34 L483.58 954.47 L493.1 956.16 L502.63 957.43 L512.15 958.33 L521.67 958.87 L531.2 959.12 L540.72 959.09 L550.24 958.85 L559.76 958.43 L569.29 957.87 L578.81 957.21 L588.33 956.46 L597.85 955.64 L607.38 954.75 L616.9 953.79 L626.42 952.72 L635.95 951.51 L645.47 950.08" fill="none" stroke="#a9cd62" stroke-width="2.4" stroke-linejoin="round"/>
<line x1="365.5" x2="658.8" y1="954.3" y2="954.3" stroke="#121212" stroke-width="1.35" stroke-dasharray="4.4 4.0"/>
</g>
<rect x="365.5" y="822.1" width="293.3" height="177.1" fill="none" stroke="#525252" stroke-width="1"/>
<clipPath id="cA42"><rect x="672.5" y="822.1" width="293.3" height="177.1"/></clipPath>
<g clip-path="url(#cA42)">
<path d="M685.83 841.76 L695.35 859.04 L704.88 876.31 L714.4 889.39 L723.92 902.47 L733.45 911.18 L742.97 919.9 L752.49 925.34 L762.01 930.79 L771.54 934.9 L781.06 939.01 L790.58 942.01 L800.1 945.01 L809.63 946.9 L819.15 948.79 L828.67 949.67 L838.2 950.55 L847.72 951.43 L857.24 952.3 L866.76 951.83 L876.29 951.35 L885.81 949.49 L895.33 947.62 L904.85 945.06 L914.38 942.5 L923.9 939.21 L933.42 935.92 L942.95 932.21 L952.47 928.49 L952.47 967.45 L942.95 967.07 L933.42 966.7 L923.9 966.34 L914.38 965.98 L904.85 966.2 L895.33 966.42 L885.81 966.99 L876.29 967.55 L866.76 968.23 L857.24 968.91 L847.72 969.13 L838.2 969.35 L828.67 968.92 L819.15 968.48 L809.63 966.62 L800.1 964.76 L790.58 960.98 L781.06 957.2 L771.54 951.71 L762.01 946.22 L752.49 940.78 L742.97 935.34 L733.45 929.49 L723.92 923.64 L714.4 918.49 L704.88 913.34 L695.35 908.42 L685.83 903.5Z" fill="#dae7b6"/>
<path d="M685.83 873.47 L695.35 885.1 L704.88 895.65 L714.4 905.2 L723.92 913.79 L733.45 921.49 L742.97 928.35 L752.49 934.41 L762.01 939.71 L771.54 944.31 L781.06 948.24 L790.58 951.55 L800.1 954.26 L809.63 956.43 L819.15 958.08 L828.67 959.25 L838.2 959.98 L847.72 960.31 L857.24 960.26 L866.76 959.89 L876.29 959.22 L885.81 958.31 L895.33 957.18 L904.85 955.88 L914.38 954.46 L923.9 952.97 L933.42 951.46 L942.95 949.98 L952.47 948.58" fill="none" stroke="#a9cd62" stroke-width="2.4" stroke-linejoin="round"/>
<line x1="672.5" x2="965.8" y1="954.3" y2="954.3" stroke="#121212" stroke-width="1.35" stroke-dasharray="4.4 4.0"/>
</g>
<rect x="672.5" y="822.1" width="293.3" height="177.1" fill="none" stroke="#525252" stroke-width="1"/>
<line x1="55.2" x2="58.5" y1="991" y2="991" stroke="#333" stroke-width="1.1"/>
<text x="53.7" y="1001.8" text-anchor="end" textLength="27.4" lengthAdjust="spacingAndGlyphs" style="font-family:'Liberation Sans',Arial,Helvetica,sans-serif;font-size:15.2px" fill="#4d4d4d" stroke="#4d4d4d" stroke-width="0.25">0.85</text>
<line x1="55.2" x2="58.5" y1="953.77" y2="953.77" stroke="#333" stroke-width="1.1"/>
<text x="53.7" y="964.57" text-anchor="end" textLength="27.4" lengthAdjust="spacingAndGlyphs" style="font-family:'Liberation Sans',Arial,Helvetica,sans-serif;font-size:15.2px" fill="#4d4d4d" stroke="#4d4d4d" stroke-width="0.25">1.00</text>
<line x1="55.2" x2="58.5" y1="916.55" y2="916.55" stroke="#333" stroke-width="1.1"/>
<text x="53.7" y="927.35" text-anchor="end" textLength="27.4" lengthAdjust="spacingAndGlyphs" style="font-family:'Liberation Sans',Arial,Helvetica,sans-serif;font-size:15.2px" fill="#4d4d4d" stroke="#4d4d4d" stroke-width="0.25">1.15</text>
<line x1="55.2" x2="58.5" y1="879.33" y2="879.33" stroke="#333" stroke-width="1.1"/>
<text x="53.7" y="890.12" text-anchor="end" textLength="27.4" lengthAdjust="spacingAndGlyphs" style="font-family:'Liberation Sans',Arial,Helvetica,sans-serif;font-size:15.2px" fill="#4d4d4d" stroke="#4d4d4d" stroke-width="0.25">1.30</text>
<line x1="55.2" x2="58.5" y1="842.1" y2="842.1" stroke="#333" stroke-width="1.1"/>
<text x="53.7" y="852.9" text-anchor="end" textLength="27.4" lengthAdjust="spacingAndGlyphs" style="font-family:'Liberation Sans',Arial,Helvetica,sans-serif;font-size:15.2px" fill="#4d4d4d" stroke="#4d4d4d" stroke-width="0.25">1.45</text>
<line x1="71.83" x2="71.83" y1="999.2" y2="1002" stroke="#333" stroke-width="1.1"/>
<text x="71.83" y="1014.9" text-anchor="middle" style="font-family:'Liberation Sans',Arial,Helvetica,sans-serif;font-size:14.6px" fill="#4d4d4d" stroke="#4d4d4d" stroke-width="0.25">0</text>
<line x1="109.92" x2="109.92" y1="999.2" y2="1002" stroke="#333" stroke-width="1.1"/>
<text x="109.92" y="1014.9" text-anchor="middle" style="font-family:'Liberation Sans',Arial,Helvetica,sans-serif;font-size:14.6px" fill="#4d4d4d" stroke="#4d4d4d" stroke-width="0.25">2</text>
<line x1="148.01" x2="148.01" y1="999.2" y2="1002" stroke="#333" stroke-width="1.1"/>
<text x="148.01" y="1014.9" text-anchor="middle" style="font-family:'Liberation Sans',Arial,Helvetica,sans-serif;font-size:14.6px" fill="#4d4d4d" stroke="#4d4d4d" stroke-width="0.25">4</text>
<line x1="186.1" x2="186.1" y1="999.2" y2="1002" stroke="#333" stroke-width="1.1"/>
<text x="186.1" y="1014.9" text-anchor="middle" style="font-family:'Liberation Sans',Arial,Helvetica,sans-serif;font-size:14.6px" fill="#4d4d4d" stroke="#4d4d4d" stroke-width="0.25">6</text>
<line x1="224.2" x2="224.2" y1="999.2" y2="1002" stroke="#333" stroke-width="1.1"/>
<text x="224.2" y="1014.9" text-anchor="middle" style="font-family:'Liberation Sans',Arial,Helvetica,sans-serif;font-size:14.6px" fill="#4d4d4d" stroke="#4d4d4d" stroke-width="0.25">8</text>
<line x1="262.29" x2="262.29" y1="999.2" y2="1002" stroke="#333" stroke-width="1.1"/>
<text x="262.29" y="1014.9" text-anchor="middle" style="font-family:'Liberation Sans',Arial,Helvetica,sans-serif;font-size:14.6px" fill="#4d4d4d" stroke="#4d4d4d" stroke-width="0.25">10</text>
<line x1="300.38" x2="300.38" y1="999.2" y2="1002" stroke="#333" stroke-width="1.1"/>
<text x="300.38" y="1014.9" text-anchor="middle" style="font-family:'Liberation Sans',Arial,Helvetica,sans-serif;font-size:14.6px" fill="#4d4d4d" stroke="#4d4d4d" stroke-width="0.25">12</text>
<line x1="338.47" x2="338.47" y1="999.2" y2="1002" stroke="#333" stroke-width="1.1"/>
<text x="338.47" y="1014.9" text-anchor="middle" style="font-family:'Liberation Sans',Arial,Helvetica,sans-serif;font-size:14.6px" fill="#4d4d4d" stroke="#4d4d4d" stroke-width="0.25">14</text>
<line x1="378.83" x2="378.83" y1="999.2" y2="1002" stroke="#333" stroke-width="1.1"/>
<text x="378.83" y="1014.9" text-anchor="middle" style="font-family:'Liberation Sans',Arial,Helvetica,sans-serif;font-size:14.6px" fill="#4d4d4d" stroke="#4d4d4d" stroke-width="0.25">0</text>
<line x1="416.92" x2="416.92" y1="999.2" y2="1002" stroke="#333" stroke-width="1.1"/>
<text x="416.92" y="1014.9" text-anchor="middle" style="font-family:'Liberation Sans',Arial,Helvetica,sans-serif;font-size:14.6px" fill="#4d4d4d" stroke="#4d4d4d" stroke-width="0.25">2</text>
<line x1="455.01" x2="455.01" y1="999.2" y2="1002" stroke="#333" stroke-width="1.1"/>
<text x="455.01" y="1014.9" text-anchor="middle" style="font-family:'Liberation Sans',Arial,Helvetica,sans-serif;font-size:14.6px" fill="#4d4d4d" stroke="#4d4d4d" stroke-width="0.25">4</text>
<line x1="493.1" x2="493.1" y1="999.2" y2="1002" stroke="#333" stroke-width="1.1"/>
<text x="493.1" y="1014.9" text-anchor="middle" style="font-family:'Liberation Sans',Arial,Helvetica,sans-serif;font-size:14.6px" fill="#4d4d4d" stroke="#4d4d4d" stroke-width="0.25">6</text>
<line x1="531.2" x2="531.2" y1="999.2" y2="1002" stroke="#333" stroke-width="1.1"/>
<text x="531.2" y="1014.9" text-anchor="middle" style="font-family:'Liberation Sans',Arial,Helvetica,sans-serif;font-size:14.6px" fill="#4d4d4d" stroke="#4d4d4d" stroke-width="0.25">8</text>
<line x1="569.29" x2="569.29" y1="999.2" y2="1002" stroke="#333" stroke-width="1.1"/>
<text x="569.29" y="1014.9" text-anchor="middle" style="font-family:'Liberation Sans',Arial,Helvetica,sans-serif;font-size:14.6px" fill="#4d4d4d" stroke="#4d4d4d" stroke-width="0.25">10</text>
<line x1="607.38" x2="607.38" y1="999.2" y2="1002" stroke="#333" stroke-width="1.1"/>
<text x="607.38" y="1014.9" text-anchor="middle" style="font-family:'Liberation Sans',Arial,Helvetica,sans-serif;font-size:14.6px" fill="#4d4d4d" stroke="#4d4d4d" stroke-width="0.25">12</text>
<line x1="645.47" x2="645.47" y1="999.2" y2="1002" stroke="#333" stroke-width="1.1"/>
<text x="645.47" y="1014.9" text-anchor="middle" style="font-family:'Liberation Sans',Arial,Helvetica,sans-serif;font-size:14.6px" fill="#4d4d4d" stroke="#4d4d4d" stroke-width="0.25">14</text>
<line x1="685.83" x2="685.83" y1="999.2" y2="1002" stroke="#333" stroke-width="1.1"/>
<text x="685.83" y="1014.9" text-anchor="middle" style="font-family:'Liberation Sans',Arial,Helvetica,sans-serif;font-size:14.6px" fill="#4d4d4d" stroke="#4d4d4d" stroke-width="0.25">0</text>
<line x1="723.92" x2="723.92" y1="999.2" y2="1002" stroke="#333" stroke-width="1.1"/>
<text x="723.92" y="1014.9" text-anchor="middle" style="font-family:'Liberation Sans',Arial,Helvetica,sans-serif;font-size:14.6px" fill="#4d4d4d" stroke="#4d4d4d" stroke-width="0.25">2</text>
<line x1="762.01" x2="762.01" y1="999.2" y2="1002" stroke="#333" stroke-width="1.1"/>
<text x="762.01" y="1014.9" text-anchor="middle" style="font-family:'Liberation Sans',Arial,Helvetica,sans-serif;font-size:14.6px" fill="#4d4d4d" stroke="#4d4d4d" stroke-width="0.25">4</text>
<line x1="800.1" x2="800.1" y1="999.2" y2="1002" stroke="#333" stroke-width="1.1"/>
<text x="800.1" y="1014.9" text-anchor="middle" style="font-family:'Liberation Sans',Arial,Helvetica,sans-serif;font-size:14.6px" fill="#4d4d4d" stroke="#4d4d4d" stroke-width="0.25">6</text>
<line x1="838.2" x2="838.2" y1="999.2" y2="1002" stroke="#333" stroke-width="1.1"/>
<text x="838.2" y="1014.9" text-anchor="middle" style="font-family:'Liberation Sans',Arial,Helvetica,sans-serif;font-size:14.6px" fill="#4d4d4d" stroke="#4d4d4d" stroke-width="0.25">8</text>
<line x1="876.29" x2="876.29" y1="999.2" y2="1002" stroke="#333" stroke-width="1.1"/>
<text x="876.29" y="1014.9" text-anchor="middle" style="font-family:'Liberation Sans',Arial,Helvetica,sans-serif;font-size:14.6px" fill="#4d4d4d" stroke="#4d4d4d" stroke-width="0.25">10</text>
<line x1="914.38" x2="914.38" y1="999.2" y2="1002" stroke="#333" stroke-width="1.1"/>
<text x="914.38" y="1014.9" text-anchor="middle" style="font-family:'Liberation Sans',Arial,Helvetica,sans-serif;font-size:14.6px" fill="#4d4d4d" stroke="#4d4d4d" stroke-width="0.25">12</text>
<line x1="952.47" x2="952.47" y1="999.2" y2="1002" stroke="#333" stroke-width="1.1"/>
<text x="952.47" y="1014.9" text-anchor="middle" style="font-family:'Liberation Sans',Arial,Helvetica,sans-serif;font-size:14.6px" fill="#4d4d4d" stroke="#4d4d4d" stroke-width="0.25">14</text>
<text x="512.15" y="1034.4" text-anchor="middle" style="font-family:'Liberation Sans',Arial,Helvetica,sans-serif;font-size:20px" fill="#000" stroke="#000" stroke-width="0.3">Lag (d)</text>
<text x="0" y="0" text-anchor="middle" transform="translate(19.8 520.65) rotate(-90)" style="font-family:'Liberation Sans',Arial,Helvetica,sans-serif;font-size:19.5px" fill="#000" stroke="#000" stroke-width="0.3">Relative risks</text>
<rect x="1065.5" y="21" width="293.3" height="22.3" fill="#ffb8ff"/>
<text x="1212.15" y="37.2" text-anchor="middle" textLength="73.12" lengthAdjust="spacingAndGlyphs" style="font-family:'Liberation Sans',Arial,Helvetica,sans-serif;font-size:15.2px" fill="#1a1a1a" stroke="#1a1a1a" stroke-width="0.3">Nationwide</text>
<rect x="1372.6" y="21" width="293.3" height="22.3" fill="#ffb8ff"/>
<text x="1519.25" y="37.2" text-anchor="middle" textLength="175.01" lengthAdjust="spacingAndGlyphs" style="font-family:'Liberation Sans',Arial,Helvetica,sans-serif;font-size:15.2px" fill="#1a1a1a" stroke="#1a1a1a" stroke-width="0.3">Subtropical monsoon zone</text>
<rect x="1679.7" y="21" width="293.3" height="22.3" fill="#ffb8ff"/>
<text x="1826.35" y="37.2" text-anchor="middle" textLength="170.89" lengthAdjust="spacingAndGlyphs" style="font-family:'Liberation Sans',Arial,Helvetica,sans-serif;font-size:15.2px" fill="#1a1a1a" stroke="#1a1a1a" stroke-width="0.3">Temperate monsoon zone</text>
<rect x="1973" y="43.3" width="21.7" height="177.1" fill="#beedfd"/>
<text x="0" y="0" text-anchor="middle" textLength="168.78" lengthAdjust="spacingAndGlyphs" transform="translate(1978.65 131.85) rotate(90)" style="font-family:'Liberation Sans',Arial,Helvetica,sans-serif;font-size:14.8px" fill="#1a1a1a" stroke="#1a1a1a" stroke-width="0.25">Neurodegenerative disease</text>
<rect x="1973" y="238" width="21.7" height="177.1" fill="#beedfd"/>
<text x="0" y="0" text-anchor="middle" textLength="59.06" lengthAdjust="spacingAndGlyphs" transform="translate(1978.65 326.55) rotate(90)" style="font-family:'Liberation Sans',Arial,Helvetica,sans-serif;font-size:14.8px" fill="#1a1a1a" stroke="#1a1a1a" stroke-width="0.25">Dementia</text>
<rect x="1973" y="432.7" width="21.7" height="177.1" fill="#beedfd"/>
<text x="0" y="0" text-anchor="middle" textLength="112.75" lengthAdjust="spacingAndGlyphs" transform="translate(1978.65 521.25) rotate(90)" style="font-family:'Liberation Sans',Arial,Helvetica,sans-serif;font-size:14.8px" fill="#1a1a1a" stroke="#1a1a1a" stroke-width="0.25">Alzheimer disease</text>
<rect x="1973" y="627.4" width="21.7" height="177.1" fill="#beedfd"/>
<text x="0" y="0" text-anchor="middle" textLength="162.23" lengthAdjust="spacingAndGlyphs" transform="translate(1978.65 715.95) rotate(90)" style="font-family:'Liberation Sans',Arial,Helvetica,sans-serif;font-size:14.8px" fill="#1a1a1a" stroke="#1a1a1a" stroke-width="0.25">Non−Alzheimer dementias</text>
<rect x="1973" y="822.1" width="21.7" height="177.1" fill="#beedfd"/>
<text x="0" y="0" text-anchor="middle" textLength="112.77" lengthAdjust="spacingAndGlyphs" transform="translate(1978.65 910.65) rotate(90)" style="font-family:'Liberation Sans',Arial,Helvetica,sans-serif;font-size:14.8px" fill="#1a1a1a" stroke="#1a1a1a" stroke-width="0.25">Parkinson disease</text>
<clipPath id="cB00"><rect x="1065.5" y="43.3" width="293.3" height="177.1"/></clipPath>
<g clip-path="url(#cB00)">
<path d="M1078.83 150.56 L1097.88 133.07 L1116.92 111.84 L1135.97 93.12 L1155.01 77.87 L1174.06 67.74 L1193.1 63.03 L1212.15 63.12 L1231.2 67.31 L1250.24 74.73 L1269.29 84.63 L1288.33 95.7 L1307.38 107.06 L1326.42 118.08 L1345.47 127.39 L1345.47 154.55 L1326.42 138.94 L1307.38 122.93 L1288.33 108.41 L1269.29 96.67 L1250.24 87.96 L1231.2 82.08 L1212.15 78.97 L1193.1 78.87 L1174.06 82.69 L1155.01 91.11 L1135.97 104.97 L1116.92 125.2 L1097.88 153.16 L1078.83 182.31Z" fill="#d5f5e8"/>
<path d="M1078.83 167.02 L1097.88 141.6 L1116.92 117.21 L1135.97 98.49 L1155.01 84.07 L1174.06 74.9 L1193.1 70.53 L1212.15 70.53 L1231.2 74.52 L1250.24 81.61 L1269.29 91.36 L1288.33 102.75 L1307.38 115.29 L1326.42 128.21 L1345.47 141.47" fill="none" stroke="#5cbf9f" stroke-width="1.9" stroke-linejoin="round"/>
<line x1="1065.5" x2="1358.8" y1="132.4" y2="132.4" stroke="#121212" stroke-width="1.35" stroke-dasharray="4.4 4.0"/>
</g>
<rect x="1065.5" y="43.3" width="293.3" height="177.1" fill="none" stroke="#525252" stroke-width="1"/>
<clipPath id="cB01"><rect x="1372.6" y="43.3" width="293.3" height="177.1"/></clipPath>
<g clip-path="url(#cB01)">
<path d="M1385.93 150.5 L1404.98 133.35 L1424.02 112.96 L1443.07 94.53 L1462.11 81.04 L1481.16 72.05 L1500.2 68.15 L1519.25 68.25 L1538.3 71.73 L1557.34 78 L1576.39 86.55 L1595.43 97.08 L1614.48 108.58 L1633.52 119.57 L1652.57 127.36 L1652.57 143.51 L1633.52 130.28 L1614.48 116.28 L1595.43 103.65 L1576.39 93.01 L1557.34 85.06 L1538.3 79.8 L1519.25 77.05 L1500.2 76.99 L1481.16 80.38 L1462.11 88.11 L1443.07 101.06 L1424.02 119.55 L1404.98 143.76 L1385.93 169.35Z" fill="#d5f5e8"/>
<path d="M1385.93 160.14 L1404.98 137.43 L1424.02 115.95 L1443.07 97.92 L1462.11 84.89 L1481.16 76.21 L1500.2 72.08 L1519.25 72.03 L1538.3 75.52 L1557.34 81.68 L1576.39 90.28 L1595.43 100.65 L1614.48 111.9 L1633.52 123.77 L1652.57 136.09" fill="none" stroke="#5cbf9f" stroke-width="1.9" stroke-linejoin="round"/>
<line x1="1372.6" x2="1665.9" y1="132.4" y2="132.4" stroke="#121212" stroke-width="1.35" stroke-dasharray="4.4 4.0"/>
</g>
<rect x="1372.6" y="43.3" width="293.3" height="177.1" fill="none" stroke="#525252" stroke-width="1"/>
<clipPath id="cB02"><rect x="1679.7" y="43.3" width="293.3" height="177.1"/></clipPath>
<g clip-path="url(#cB02)">
<path d="M1693.03 132.44 L1712.08 123.44 L1731.12 113.6 L1750.17 103.23 L1769.21 93.5 L1788.26 86.24 L1807.3 82.27 L1826.35 81.88 L1845.4 84.27 L1864.44 89.13 L1883.49 95.1 L1902.53 100.9 L1921.58 105.3 L1940.62 108.59 L1959.67 112.09 L1959.67 152.88 L1940.62 143.22 L1921.58 131.12 L1902.53 119.91 L1883.49 112.63 L1864.44 108.58 L1845.4 106.55 L1826.35 105.89 L1807.3 106.37 L1788.26 108.45 L1769.21 113.47 L1750.17 122.48 L1731.12 138.27 L1712.08 158.83 L1693.03 181.2Z" fill="#d5f5e8"/>
<path d="M1693.03 157.79 L1712.08 141.21 L1731.12 126.07 L1750.17 113.28 L1769.21 103.76 L1788.26 97.29 L1807.3 93.92 L1826.35 93.21 L1845.4 94.89 L1864.44 98.56 L1883.49 103.87 L1902.53 110.48 L1921.58 117.79 L1940.62 125.06 L1959.67 132.13" fill="none" stroke="#5cbf9f" stroke-width="1.9" stroke-linejoin="round"/>
<line x1="1679.7" x2="1973" y1="132.4" y2="132.4" stroke="#121212" stroke-width="1.35" stroke-dasharray="4.4 4.0"/>
</g>
<rect x="1679.7" y="43.3" width="293.3" height="177.1" fill="none" stroke="#525252" stroke-width="1"/>
<line x1="1062.2" x2="1065.5" y1="212.6" y2="212.6" stroke="#333" stroke-width="1.1"/>
<text x="1060.7" y="223.4" text-anchor="end" textLength="27.4" lengthAdjust="spacingAndGlyphs" style="font-family:'Liberation Sans',Arial,Helvetica,sans-serif;font-size:15.2px" fill="#4d4d4d" stroke="#4d4d4d" stroke-width="0.25">0.90</text>
<line x1="1062.2" x2="1065.5" y1="172.28" y2="172.28" stroke="#333" stroke-width="1.1"/>
<text x="1060.7" y="183.08" text-anchor="end" textLength="27.4" lengthAdjust="spacingAndGlyphs" style="font-family:'Liberation Sans',Arial,Helvetica,sans-serif;font-size:15.2px" fill="#4d4d4d" stroke="#4d4d4d" stroke-width="0.25">0.95</text>
<line x1="1062.2" x2="1065.5" y1="131.95" y2="131.95" stroke="#333" stroke-width="1.1"/>
<text x="1060.7" y="142.75" text-anchor="end" textLength="27.4" lengthAdjust="spacingAndGlyphs" style="font-family:'Liberation Sans',Arial,Helvetica,sans-serif;font-size:15.2px" fill="#4d4d4d" stroke="#4d4d4d" stroke-width="0.25">1.00</text>
<line x1="1062.2" x2="1065.5" y1="91.62" y2="91.62" stroke="#333" stroke-width="1.1"/>
<text x="1060.7" y="102.42" text-anchor="end" textLength="27.4" lengthAdjust="spacingAndGlyphs" style="font-family:'Liberation Sans',Arial,Helvetica,sans-serif;font-size:15.2px" fill="#4d4d4d" stroke="#4d4d4d" stroke-width="0.25">1.05</text>
<line x1="1062.2" x2="1065.5" y1="51.3" y2="51.3" stroke="#333" stroke-width="1.1"/>
<text x="1060.7" y="62.1" text-anchor="end" textLength="27.4" lengthAdjust="spacingAndGlyphs" style="font-family:'Liberation Sans',Arial,Helvetica,sans-serif;font-size:15.2px" fill="#4d4d4d" stroke="#4d4d4d" stroke-width="0.25">1.10</text>
<clipPath id="cB10"><rect x="1065.5" y="238" width="293.3" height="177.1"/></clipPath>
<g clip-path="url(#cB10)">
<path d="M1078.83 351.47 L1097.88 330.73 L1116.92 307.16 L1135.97 285.27 L1155.01 268.23 L1174.06 255.99 L1193.1 249.94 L1212.15 249.32 L1231.2 253.39 L1250.24 261.04 L1269.29 271.18 L1288.33 282.61 L1307.38 294.4 L1326.42 306.18 L1345.47 317.3 L1345.47 346.11 L1326.42 328.07 L1307.38 310.17 L1288.33 294.85 L1269.29 283.26 L1250.24 275.38 L1231.2 269.63 L1212.15 266.85 L1193.1 267.05 L1174.06 271.51 L1155.01 281.92 L1135.97 299.14 L1116.92 326.2 L1097.88 357.05 L1078.83 384.82Z" fill="#fdd0b9"/>
<path d="M1078.83 369.33 L1097.88 342.95 L1116.92 316.3 L1135.97 292.98 L1155.01 275.49 L1174.06 263.85 L1193.1 258.06 L1212.15 257.48 L1231.2 261.06 L1250.24 268.18 L1269.29 277.94 L1288.33 289.28 L1307.38 301.9 L1326.42 316.03 L1345.47 332.01" fill="none" stroke="#fb8458" stroke-width="1.9" stroke-linejoin="round"/>
<line x1="1065.5" x2="1358.8" y1="327" y2="327" stroke="#121212" stroke-width="1.35" stroke-dasharray="4.4 4.0"/>
</g>
<rect x="1065.5" y="238" width="293.3" height="177.1" fill="none" stroke="#525252" stroke-width="1"/>
<clipPath id="cB11"><rect x="1372.6" y="238" width="293.3" height="177.1"/></clipPath>
<g clip-path="url(#cB11)">
<path d="M1385.93 348.92 L1404.98 328.09 L1424.02 305.72 L1443.07 286.49 L1462.11 271.34 L1481.16 261.64 L1500.2 256.76 L1519.25 256.56 L1538.3 260.32 L1557.34 267.5 L1576.39 276.55 L1595.43 287.61 L1614.48 299.89 L1633.52 311.57 L1652.57 322.36 L1652.57 339.4 L1633.52 323.42 L1614.48 308 L1595.43 294.84 L1576.39 283.96 L1557.34 275.63 L1538.3 269.79 L1519.25 266.72 L1500.2 266.87 L1481.16 271.06 L1462.11 280.4 L1443.07 295.45 L1424.02 316.81 L1404.98 343.23 L1385.93 369.46Z" fill="#fdd0b9"/>
<path d="M1385.93 359.45 L1404.98 335.18 L1424.02 311.44 L1443.07 291.47 L1462.11 276.56 L1481.16 266.59 L1500.2 261.6 L1519.25 261.17 L1538.3 264.47 L1557.34 271.23 L1576.39 280.17 L1595.43 291.13 L1614.48 303.5 L1633.52 316.88 L1652.57 331.17" fill="none" stroke="#fb8458" stroke-width="1.9" stroke-linejoin="round"/>
<line x1="1372.6" x2="1665.9" y1="327" y2="327" stroke="#121212" stroke-width="1.35" stroke-dasharray="4.4 4.0"/>
</g>
<rect x="1372.6" y="238" width="293.3" height="177.1" fill="none" stroke="#525252" stroke-width="1"/>
<clipPath id="cB12"><rect x="1679.7" y="238" width="293.3" height="177.1"/></clipPath>
<g clip-path="url(#cB12)">
<path d="M1693.03 338.53 L1712.08 326.99 L1731.12 313.62 L1750.17 299.23 L1769.21 285.94 L1788.26 275.67 L1807.3 269.4 L1826.35 267.04 L1845.4 268.65 L1864.44 272.98 L1883.49 278.78 L1902.53 284.18 L1921.58 288.46 L1940.62 291.51 L1959.67 294.34 L1959.67 340.23 L1940.62 328.63 L1921.58 315.58 L1902.53 305.01 L1883.49 297.78 L1864.44 294.27 L1845.4 293.1 L1826.35 293.69 L1807.3 296.1 L1788.26 300.39 L1769.21 307.81 L1750.17 319.99 L1731.12 338.78 L1712.08 363.77 L1693.03 391.62Z" fill="#fdd0b9"/>
<path d="M1693.03 365.17 L1712.08 345.22 L1731.12 326.48 L1750.17 309.99 L1769.21 297.12 L1788.26 288.09 L1807.3 282.46 L1826.35 280.19 L1845.4 280.94 L1864.44 284.02 L1883.49 289.26 L1902.53 295.79 L1921.58 302.75 L1940.62 310 L1959.67 317.31" fill="none" stroke="#fb8458" stroke-width="1.9" stroke-linejoin="round"/>
<line x1="1679.7" x2="1973" y1="327" y2="327" stroke="#121212" stroke-width="1.35" stroke-dasharray="4.4 4.0"/>
</g>
<rect x="1679.7" y="238" width="293.3" height="177.1" fill="none" stroke="#525252" stroke-width="1"/>
<line x1="1062.2" x2="1065.5" y1="407.3" y2="407.3" stroke="#333" stroke-width="1.1"/>
<text x="1060.7" y="418.1" text-anchor="end" textLength="27.4" lengthAdjust="spacingAndGlyphs" style="font-family:'Liberation Sans',Arial,Helvetica,sans-serif;font-size:15.2px" fill="#4d4d4d" stroke="#4d4d4d" stroke-width="0.25">0.90</text>
<line x1="1062.2" x2="1065.5" y1="366.98" y2="366.98" stroke="#333" stroke-width="1.1"/>
<text x="1060.7" y="377.78" text-anchor="end" textLength="27.4" lengthAdjust="spacingAndGlyphs" style="font-family:'Liberation Sans',Arial,Helvetica,sans-serif;font-size:15.2px" fill="#4d4d4d" stroke="#4d4d4d" stroke-width="0.25">0.95</text>
<line x1="1062.2" x2="1065.5" y1="326.65" y2="326.65" stroke="#333" stroke-width="1.1"/>
<text x="1060.7" y="337.45" text-anchor="end" textLength="27.4" lengthAdjust="spacingAndGlyphs" style="font-family:'Liberation Sans',Arial,Helvetica,sans-serif;font-size:15.2px" fill="#4d4d4d" stroke="#4d4d4d" stroke-width="0.25">1.00</text>
<line x1="1062.2" x2="1065.5" y1="286.32" y2="286.32" stroke="#333" stroke-width="1.1"/>
<text x="1060.7" y="297.12" text-anchor="end" textLength="27.4" lengthAdjust="spacingAndGlyphs" style="font-family:'Liberation Sans',Arial,Helvetica,sans-serif;font-size:15.2px" fill="#4d4d4d" stroke="#4d4d4d" stroke-width="0.25">1.05</text>
<line x1="1062.2" x2="1065.5" y1="246" y2="246" stroke="#333" stroke-width="1.1"/>
<text x="1060.7" y="256.8" text-anchor="end" textLength="27.4" lengthAdjust="spacingAndGlyphs" style="font-family:'Liberation Sans',Arial,Helvetica,sans-serif;font-size:15.2px" fill="#4d4d4d" stroke="#4d4d4d" stroke-width="0.25">1.10</text>
<clipPath id="cB20"><rect x="1065.5" y="432.7" width="293.3" height="177.1"/></clipPath>
<g clip-path="url(#cB20)">
<path d="M1078.83 543.16 L1097.88 542.79 L1116.92 540.45 L1135.97 535.38 L1155.01 528.8 L1174.06 522.37 L1193.1 518.56 L1212.15 517.25 L1231.2 518.39 L1250.24 521.27 L1269.29 524.29 L1288.33 525.89 L1307.38 525.17 L1326.42 522.85 L1345.47 521.32 L1345.47 571.54 L1326.42 566.11 L1307.38 557.29 L1288.33 549.57 L1269.29 545.51 L1250.24 544.63 L1231.2 545.24 L1212.15 546.4 L1193.1 547.69 L1174.06 549.26 L1155.01 552.32 L1135.97 558.23 L1116.92 569.46 L1097.88 585.05 L1078.83 600.87Z" fill="#d2d6f0"/>
<path d="M1078.83 573.9 L1097.88 563.76 L1116.92 554.32 L1135.97 546.15 L1155.01 539.83 L1174.06 535.32 L1193.1 532.71 L1212.15 531.59 L1231.2 531.73 L1250.24 532.97 L1269.29 534.98 L1288.33 537.85 L1307.38 540.96 L1326.42 544.19 L1345.47 547.82" fill="none" stroke="#8497c9" stroke-width="1.9" stroke-linejoin="round"/>
<line x1="1065.5" x2="1358.8" y1="566.5" y2="566.5" stroke="#121212" stroke-width="1.35" stroke-dasharray="4.4 4.0"/>
</g>
<rect x="1065.5" y="432.7" width="293.3" height="177.1" fill="none" stroke="#525252" stroke-width="1"/>
<clipPath id="cB21"><rect x="1372.6" y="432.7" width="293.3" height="177.1"/></clipPath>
<g clip-path="url(#cB21)">
<path d="M1385.93 570.11 L1404.98 561.89 L1424.02 552.4 L1443.07 544.27 L1462.11 537.47 L1481.16 532.93 L1500.2 530.46 L1519.25 530.12 L1538.3 531.67 L1557.34 534.88 L1576.39 539 L1595.43 543.38 L1614.48 547.71 L1633.52 551.59 L1652.57 555.04 L1652.57 571.17 L1633.52 564.05 L1614.48 557.27 L1595.43 551.71 L1576.39 546.88 L1557.34 543.26 L1538.3 540.87 L1519.25 539.61 L1500.2 539.68 L1481.16 541.65 L1462.11 545.9 L1443.07 552.85 L1424.02 562.63 L1404.98 575.68 L1385.93 589.8Z" fill="#d2d6f0"/>
<path d="M1385.93 580.39 L1404.98 568.8 L1424.02 557.5 L1443.07 548.53 L1462.11 541.61 L1481.16 536.98 L1500.2 534.82 L1519.25 534.76 L1538.3 536.31 L1557.34 539.27 L1576.39 543.3 L1595.43 547.76 L1614.48 552.33 L1633.52 557.75 L1652.57 563.21" fill="none" stroke="#8497c9" stroke-width="1.9" stroke-linejoin="round"/>
<line x1="1372.6" x2="1665.9" y1="566.5" y2="566.5" stroke="#121212" stroke-width="1.35" stroke-dasharray="4.4 4.0"/>
</g>
<rect x="1372.6" y="432.7" width="293.3" height="177.1" fill="none" stroke="#525252" stroke-width="1"/>
<clipPath id="cB22"><rect x="1679.7" y="432.7" width="293.3" height="177.1"/></clipPath>
<g clip-path="url(#cB22)">
<path d="M1693.03 491.42 L1712.08 516.78 L1731.12 533.99 L1750.17 541.53 L1769.21 541.98 L1788.26 539.04 L1807.3 535.06 L1826.35 531.57 L1845.4 528.59 L1864.44 525.28 L1883.49 519.83 L1902.53 510.2 L1921.58 494.93 L1940.62 475.17 L1959.67 453.6 L1959.67 554.45 L1940.62 553.24 L1921.58 552.06 L1902.53 553.83 L1883.49 559.15 L1864.44 567.3 L1845.4 575.23 L1826.35 581.37 L1807.3 584.81 L1788.26 585.22 L1769.21 583.94 L1750.17 582.69 L1731.12 584.62 L1712.08 591.75 L1693.03 602.73Z" fill="#d2d6f0"/>
<path d="M1693.03 550.8 L1712.08 556.27 L1731.12 560.26 L1750.17 562.68 L1769.21 563.57 L1788.26 562.78 L1807.3 560.54 L1826.35 556.89 L1845.4 552.11 L1864.44 546.44 L1883.49 539.86 L1902.53 532.4 L1921.58 524.55 L1940.62 516.02 L1959.67 506.9" fill="none" stroke="#8497c9" stroke-width="1.9" stroke-linejoin="round"/>
<line x1="1679.7" x2="1973" y1="566.5" y2="566.5" stroke="#121212" stroke-width="1.35" stroke-dasharray="4.4 4.0"/>
</g>
<rect x="1679.7" y="432.7" width="293.3" height="177.1" fill="none" stroke="#525252" stroke-width="1"/>
<line x1="1062.2" x2="1065.5" y1="601.8" y2="601.8" stroke="#333" stroke-width="1.1"/>
<text x="1060.7" y="612.6" text-anchor="end" textLength="27.4" lengthAdjust="spacingAndGlyphs" style="font-family:'Liberation Sans',Arial,Helvetica,sans-serif;font-size:15.2px" fill="#4d4d4d" stroke="#4d4d4d" stroke-width="0.25">0.90</text>
<line x1="1062.2" x2="1065.5" y1="548.07" y2="548.07" stroke="#333" stroke-width="1.1"/>
<text x="1060.7" y="558.87" text-anchor="end" textLength="27.4" lengthAdjust="spacingAndGlyphs" style="font-family:'Liberation Sans',Arial,Helvetica,sans-serif;font-size:15.2px" fill="#4d4d4d" stroke="#4d4d4d" stroke-width="0.25">1.05</text>
<line x1="1062.2" x2="1065.5" y1="494.33" y2="494.33" stroke="#333" stroke-width="1.1"/>
<text x="1060.7" y="505.13" text-anchor="end" textLength="27.4" lengthAdjust="spacingAndGlyphs" style="font-family:'Liberation Sans',Arial,Helvetica,sans-serif;font-size:15.2px" fill="#4d4d4d" stroke="#4d4d4d" stroke-width="0.25">1.20</text>
<line x1="1062.2" x2="1065.5" y1="440.6" y2="440.6" stroke="#333" stroke-width="1.1"/>
<text x="1060.7" y="451.4" text-anchor="end" textLength="27.4" lengthAdjust="spacingAndGlyphs" style="font-family:'Liberation Sans',Arial,Helvetica,sans-serif;font-size:15.2px" fill="#4d4d4d" stroke="#4d4d4d" stroke-width="0.25">1.35</text>
<clipPath id="cB30"><rect x="1065.5" y="627.4" width="293.3" height="177.1"/></clipPath>
<g clip-path="url(#cB30)">
<path d="M1078.83 745.48 L1097.88 724.29 L1116.92 700.26 L1135.97 677.88 L1155.01 659.4 L1174.06 646.74 L1193.1 640.37 L1212.15 639.81 L1231.2 644.12 L1250.24 652.33 L1269.29 662.69 L1288.33 674.12 L1307.38 686.07 L1326.42 698.29 L1345.47 710.32 L1345.47 740.14 L1326.42 724.07 L1307.38 705.3 L1288.33 688.57 L1269.29 675.47 L1250.24 666.49 L1231.2 660.8 L1212.15 658.03 L1193.1 658.36 L1174.06 662.91 L1155.01 673.21 L1135.97 690.7 L1116.92 716.63 L1097.88 751.22 L1078.83 781.03Z" fill="#f6d0ea"/>
<path d="M1078.83 764.11 L1097.88 736.86 L1116.92 708.06 L1135.97 684.74 L1155.01 666.82 L1174.06 654.96 L1193.1 649.04 L1212.15 648.42 L1231.2 652.23 L1250.24 659.69 L1269.29 669.9 L1288.33 681.83 L1307.38 695.16 L1326.42 709.93 L1345.47 725.89" fill="none" stroke="#e07ab9" stroke-width="1.9" stroke-linejoin="round"/>
<line x1="1065.5" x2="1358.8" y1="716" y2="716" stroke="#121212" stroke-width="1.35" stroke-dasharray="4.4 4.0"/>
</g>
<rect x="1065.5" y="627.4" width="293.3" height="177.1" fill="none" stroke="#525252" stroke-width="1"/>
<clipPath id="cB31"><rect x="1372.6" y="627.4" width="293.3" height="177.1"/></clipPath>
<g clip-path="url(#cB31)">
<path d="M1385.93 737.85 L1404.98 722.24 L1424.02 698.21 L1443.07 677.5 L1462.11 661.54 L1481.16 651.38 L1500.2 646.97 L1519.25 647.3 L1538.3 651.33 L1557.34 658.55 L1576.39 667.81 L1595.43 678.89 L1614.48 691.44 L1633.52 703.43 L1652.57 713.45 L1652.57 732.87 L1633.52 716.27 L1614.48 700.88 L1595.43 687.23 L1576.39 676.23 L1557.34 667.49 L1538.3 661.46 L1519.25 658.07 L1500.2 657.79 L1481.16 661.61 L1462.11 670.78 L1443.07 686.16 L1424.02 708 L1404.98 735.64 L1385.93 761.16Z" fill="#f6d0ea"/>
<path d="M1385.93 749.67 L1404.98 727.72 L1424.02 702.9 L1443.07 682.58 L1462.11 666.92 L1481.16 656.74 L1500.2 652.02 L1519.25 652.03 L1538.3 655.95 L1557.34 663.13 L1576.39 672.62 L1595.43 683.61 L1614.48 695.83 L1633.52 709.1 L1652.57 723.69" fill="none" stroke="#e07ab9" stroke-width="1.9" stroke-linejoin="round"/>
<line x1="1372.6" x2="1665.9" y1="716" y2="716" stroke="#121212" stroke-width="1.35" stroke-dasharray="4.4 4.0"/>
</g>
<rect x="1372.6" y="627.4" width="293.3" height="177.1" fill="none" stroke="#525252" stroke-width="1"/>
<clipPath id="cB32"><rect x="1679.7" y="627.4" width="293.3" height="177.1"/></clipPath>
<g clip-path="url(#cB32)">
<path d="M1693.03 731.98 L1712.08 720.92 L1731.12 704.2 L1750.17 687.51 L1769.21 672.86 L1788.26 661.97 L1807.3 655.9 L1826.35 654.31 L1845.4 656.57 L1864.44 661.9 L1883.49 668.65 L1902.53 675.56 L1921.58 681.68 L1940.62 686.66 L1959.67 690.43 L1959.67 736.87 L1940.62 722.78 L1921.58 708.12 L1902.53 696.59 L1883.49 688.85 L1864.44 684.25 L1845.4 682.12 L1826.35 681.99 L1807.3 683.83 L1788.26 688.01 L1769.21 695.72 L1750.17 708.75 L1731.12 729.22 L1712.08 757.04 L1693.03 785.93Z" fill="#f6d0ea"/>
<path d="M1693.03 759.7 L1712.08 738.31 L1731.12 716.28 L1750.17 698.36 L1769.21 684.48 L1788.26 675.16 L1807.3 669.6 L1826.35 667.78 L1845.4 669.27 L1864.44 673.26 L1883.49 679.24 L1902.53 686.55 L1921.58 695.02 L1940.62 704.27 L1959.67 714.51" fill="none" stroke="#e07ab9" stroke-width="1.9" stroke-linejoin="round"/>
<line x1="1679.7" x2="1973" y1="716" y2="716" stroke="#121212" stroke-width="1.35" stroke-dasharray="4.4 4.0"/>
</g>
<rect x="1679.7" y="627.4" width="293.3" height="177.1" fill="none" stroke="#525252" stroke-width="1"/>
<line x1="1062.2" x2="1065.5" y1="796.7" y2="796.7" stroke="#333" stroke-width="1.1"/>
<text x="1060.7" y="807.5" text-anchor="end" textLength="27.4" lengthAdjust="spacingAndGlyphs" style="font-family:'Liberation Sans',Arial,Helvetica,sans-serif;font-size:15.2px" fill="#4d4d4d" stroke="#4d4d4d" stroke-width="0.25">0.90</text>
<line x1="1062.2" x2="1065.5" y1="756.38" y2="756.38" stroke="#333" stroke-width="1.1"/>
<text x="1060.7" y="767.18" text-anchor="end" textLength="27.4" lengthAdjust="spacingAndGlyphs" style="font-family:'Liberation Sans',Arial,Helvetica,sans-serif;font-size:15.2px" fill="#4d4d4d" stroke="#4d4d4d" stroke-width="0.25">0.95</text>
<line x1="1062.2" x2="1065.5" y1="716.05" y2="716.05" stroke="#333" stroke-width="1.1"/>
<text x="1060.7" y="726.85" text-anchor="end" textLength="27.4" lengthAdjust="spacingAndGlyphs" style="font-family:'Liberation Sans',Arial,Helvetica,sans-serif;font-size:15.2px" fill="#4d4d4d" stroke="#4d4d4d" stroke-width="0.25">1.00</text>
<line x1="1062.2" x2="1065.5" y1="675.73" y2="675.73" stroke="#333" stroke-width="1.1"/>
<text x="1060.7" y="686.52" text-anchor="end" textLength="27.4" lengthAdjust="spacingAndGlyphs" style="font-family:'Liberation Sans',Arial,Helvetica,sans-serif;font-size:15.2px" fill="#4d4d4d" stroke="#4d4d4d" stroke-width="0.25">1.05</text>
<line x1="1062.2" x2="1065.5" y1="635.4" y2="635.4" stroke="#333" stroke-width="1.1"/>
<text x="1060.7" y="646.2" text-anchor="end" textLength="27.4" lengthAdjust="spacingAndGlyphs" style="font-family:'Liberation Sans',Arial,Helvetica,sans-serif;font-size:15.2px" fill="#4d4d4d" stroke="#4d4d4d" stroke-width="0.25">1.10</text>
<clipPath id="cB40"><rect x="1065.5" y="822.1" width="293.3" height="177.1"/></clipPath>
<g clip-path="url(#cB40)">
<path d="M1078.83 871.78 L1097.88 872.42 L1116.92 869 L1135.97 861.61 L1155.01 853.02 L1174.06 847 L1193.1 845.35 L1212.15 848.74 L1231.2 856.92 L1250.24 868.27 L1269.29 880.41 L1288.33 889.92 L1307.38 896.47 L1326.42 900.23 L1345.47 904.37 L1345.47 985.41 L1326.42 968.02 L1307.38 947.17 L1288.33 927.64 L1269.29 914.2 L1250.24 905.94 L1231.2 901.34 L1212.15 898.03 L1193.1 895.55 L1174.06 894.34 L1155.01 895.56 L1135.97 902.22 L1116.92 918.29 L1097.88 943.42 L1078.83 974.82Z" fill="#e7f6c0"/>
<path d="M1078.83 926.03 L1097.88 909.05 L1116.92 893.7 L1135.97 882.08 L1155.01 874.42 L1174.06 870.86 L1193.1 870.7 L1212.15 873.65 L1231.2 879.02 L1250.24 886.52 L1269.29 895.61 L1288.33 906.03 L1307.38 918.14 L1326.42 931.5 L1345.47 946.41" fill="none" stroke="#95d345" stroke-width="1.9" stroke-linejoin="round"/>
<line x1="1065.5" x2="1358.8" y1="910.6" y2="910.6" stroke="#121212" stroke-width="1.35" stroke-dasharray="4.4 4.0"/>
</g>
<rect x="1065.5" y="822.1" width="293.3" height="177.1" fill="none" stroke="#525252" stroke-width="1"/>
<clipPath id="cB41"><rect x="1372.6" y="822.1" width="293.3" height="177.1"/></clipPath>
<g clip-path="url(#cB41)">
<path d="M1385.93 887.11 L1404.98 885.53 L1424.02 881.65 L1443.07 876.13 L1462.11 870.28 L1481.16 865.59 L1500.2 863.21 L1519.25 863.34 L1538.3 866.01 L1557.34 870.41 L1576.39 874.96 L1595.43 878.82 L1614.48 880.91 L1633.52 881.58 L1652.57 882.57 L1652.57 928.08 L1633.52 918.29 L1614.48 908.22 L1595.43 900.44 L1576.39 895.32 L1557.34 892.6 L1538.3 891.18 L1519.25 890.72 L1500.2 890.97 L1481.16 891.86 L1462.11 894.4 L1443.07 899.66 L1424.02 909.1 L1404.98 923.84 L1385.93 943.46Z" fill="#e7f6c0"/>
<path d="M1385.93 916.28 L1404.98 905.58 L1424.02 895.64 L1443.07 887.5 L1462.11 881.52 L1481.16 878.12 L1500.2 876.64 L1519.25 876.87 L1538.3 878.76 L1557.34 881.8 L1576.39 885.74 L1595.43 890.27 L1614.48 895.21 L1633.52 900.36 L1652.57 905.97" fill="none" stroke="#95d345" stroke-width="1.9" stroke-linejoin="round"/>
<line x1="1372.6" x2="1665.9" y1="910.6" y2="910.6" stroke="#121212" stroke-width="1.35" stroke-dasharray="4.4 4.0"/>
</g>
<rect x="1372.6" y="822.1" width="293.3" height="177.1" fill="none" stroke="#525252" stroke-width="1"/>
<clipPath id="cB42"><rect x="1679.7" y="822.1" width="293.3" height="177.1"/></clipPath>
<g clip-path="url(#cB42)">
<path d="M1693.03 826.11 L1712.08 854.07 L1731.12 874.49 L1750.17 886.4 L1769.21 891.87 L1788.26 894.04 L1807.3 895.18 L1826.35 895.96 L1845.4 896.73 L1864.44 897.03 L1883.49 895.24 L1902.53 889.51 L1921.58 879.28 L1940.62 865.75 L1959.67 852.78 L1959.67 935.81 L1940.62 932.82 L1921.58 929.25 L1902.53 927.94 L1883.49 929.78 L1864.44 933.71 L1845.4 937.76 L1826.35 940.22 L1807.3 940.08 L1788.26 937.34 L1769.21 931.92 L1750.17 926.18 L1731.12 922.82 L1712.08 923.51 L1693.03 928.22Z" fill="#e7f6c0"/>
<path d="M1693.03 878.31 L1712.08 889.34 L1731.12 898.95 L1750.17 906.56 L1769.21 912.42 L1788.26 916.25 L1807.3 918.08 L1826.35 918.31 L1845.4 917.05 L1864.44 914.57 L1883.49 911.25 L1902.53 907.41 L1921.58 903.48 L1940.62 899.46 L1959.67 895.39" fill="none" stroke="#95d345" stroke-width="1.9" stroke-linejoin="round"/>
<line x1="1679.7" x2="1973" y1="910.6" y2="910.6" stroke="#121212" stroke-width="1.35" stroke-dasharray="4.4 4.0"/>
</g>
<rect x="1679.7" y="822.1" width="293.3" height="177.1" fill="none" stroke="#525252" stroke-width="1"/>
<line x1="1062.2" x2="1065.5" y1="991.4" y2="991.4" stroke="#333" stroke-width="1.1"/>
<text x="1060.7" y="1002.2" text-anchor="end" textLength="27.4" lengthAdjust="spacingAndGlyphs" style="font-family:'Liberation Sans',Arial,Helvetica,sans-serif;font-size:15.2px" fill="#4d4d4d" stroke="#4d4d4d" stroke-width="0.25">0.90</text>
<line x1="1062.2" x2="1065.5" y1="951.08" y2="951.08" stroke="#333" stroke-width="1.1"/>
<text x="1060.7" y="961.88" text-anchor="end" textLength="27.4" lengthAdjust="spacingAndGlyphs" style="font-family:'Liberation Sans',Arial,Helvetica,sans-serif;font-size:15.2px" fill="#4d4d4d" stroke="#4d4d4d" stroke-width="0.25">0.95</text>
<line x1="1062.2" x2="1065.5" y1="910.75" y2="910.75" stroke="#333" stroke-width="1.1"/>
<text x="1060.7" y="921.55" text-anchor="end" textLength="27.4" lengthAdjust="spacingAndGlyphs" style="font-family:'Liberation Sans',Arial,Helvetica,sans-serif;font-size:15.2px" fill="#4d4d4d" stroke="#4d4d4d" stroke-width="0.25">1.00</text>
<line x1="1062.2" x2="1065.5" y1="870.43" y2="870.43" stroke="#333" stroke-width="1.1"/>
<text x="1060.7" y="881.23" text-anchor="end" textLength="27.4" lengthAdjust="spacingAndGlyphs" style="font-family:'Liberation Sans',Arial,Helvetica,sans-serif;font-size:15.2px" fill="#4d4d4d" stroke="#4d4d4d" stroke-width="0.25">1.05</text>
<line x1="1062.2" x2="1065.5" y1="830.1" y2="830.1" stroke="#333" stroke-width="1.1"/>
<text x="1060.7" y="840.9" text-anchor="end" textLength="27.4" lengthAdjust="spacingAndGlyphs" style="font-family:'Liberation Sans',Arial,Helvetica,sans-serif;font-size:15.2px" fill="#4d4d4d" stroke="#4d4d4d" stroke-width="0.25">1.10</text>
<line x1="1078.83" x2="1078.83" y1="999.2" y2="1002" stroke="#333" stroke-width="1.1"/>
<text x="1078.83" y="1014.9" text-anchor="middle" style="font-family:'Liberation Sans',Arial,Helvetica,sans-serif;font-size:14.6px" fill="#4d4d4d" stroke="#4d4d4d" stroke-width="0.25">0</text>
<line x1="1116.92" x2="1116.92" y1="999.2" y2="1002" stroke="#333" stroke-width="1.1"/>
<text x="1116.92" y="1014.9" text-anchor="middle" style="font-family:'Liberation Sans',Arial,Helvetica,sans-serif;font-size:14.6px" fill="#4d4d4d" stroke="#4d4d4d" stroke-width="0.25">2</text>
<line x1="1155.01" x2="1155.01" y1="999.2" y2="1002" stroke="#333" stroke-width="1.1"/>
<text x="1155.01" y="1014.9" text-anchor="middle" style="font-family:'Liberation Sans',Arial,Helvetica,sans-serif;font-size:14.6px" fill="#4d4d4d" stroke="#4d4d4d" stroke-width="0.25">4</text>
<line x1="1193.1" x2="1193.1" y1="999.2" y2="1002" stroke="#333" stroke-width="1.1"/>
<text x="1193.1" y="1014.9" text-anchor="middle" style="font-family:'Liberation Sans',Arial,Helvetica,sans-serif;font-size:14.6px" fill="#4d4d4d" stroke="#4d4d4d" stroke-width="0.25">6</text>
<line x1="1231.2" x2="1231.2" y1="999.2" y2="1002" stroke="#333" stroke-width="1.1"/>
<text x="1231.2" y="1014.9" text-anchor="middle" style="font-family:'Liberation Sans',Arial,Helvetica,sans-serif;font-size:14.6px" fill="#4d4d4d" stroke="#4d4d4d" stroke-width="0.25">8</text>
<line x1="1269.29" x2="1269.29" y1="999.2" y2="1002" stroke="#333" stroke-width="1.1"/>
<text x="1269.29" y="1014.9" text-anchor="middle" style="font-family:'Liberation Sans',Arial,Helvetica,sans-serif;font-size:14.6px" fill="#4d4d4d" stroke="#4d4d4d" stroke-width="0.25">10</text>
<line x1="1307.38" x2="1307.38" y1="999.2" y2="1002" stroke="#333" stroke-width="1.1"/>
<text x="1307.38" y="1014.9" text-anchor="middle" style="font-family:'Liberation Sans',Arial,Helvetica,sans-serif;font-size:14.6px" fill="#4d4d4d" stroke="#4d4d4d" stroke-width="0.25">12</text>
<line x1="1345.47" x2="1345.47" y1="999.2" y2="1002" stroke="#333" stroke-width="1.1"/>
<text x="1345.47" y="1014.9" text-anchor="middle" style="font-family:'Liberation Sans',Arial,Helvetica,sans-serif;font-size:14.6px" fill="#4d4d4d" stroke="#4d4d4d" stroke-width="0.25">14</text>
<line x1="1385.93" x2="1385.93" y1="999.2" y2="1002" stroke="#333" stroke-width="1.1"/>
<text x="1385.93" y="1014.9" text-anchor="middle" style="font-family:'Liberation Sans',Arial,Helvetica,sans-serif;font-size:14.6px" fill="#4d4d4d" stroke="#4d4d4d" stroke-width="0.25">0</text>
<line x1="1424.02" x2="1424.02" y1="999.2" y2="1002" stroke="#333" stroke-width="1.1"/>
<text x="1424.02" y="1014.9" text-anchor="middle" style="font-family:'Liberation Sans',Arial,Helvetica,sans-serif;font-size:14.6px" fill="#4d4d4d" stroke="#4d4d4d" stroke-width="0.25">2</text>
<line x1="1462.11" x2="1462.11" y1="999.2" y2="1002" stroke="#333" stroke-width="1.1"/>
<text x="1462.11" y="1014.9" text-anchor="middle" style="font-family:'Liberation Sans',Arial,Helvetica,sans-serif;font-size:14.6px" fill="#4d4d4d" stroke="#4d4d4d" stroke-width="0.25">4</text>
<line x1="1500.2" x2="1500.2" y1="999.2" y2="1002" stroke="#333" stroke-width="1.1"/>
<text x="1500.2" y="1014.9" text-anchor="middle" style="font-family:'Liberation Sans',Arial,Helvetica,sans-serif;font-size:14.6px" fill="#4d4d4d" stroke="#4d4d4d" stroke-width="0.25">6</text>
<line x1="1538.3" x2="1538.3" y1="999.2" y2="1002" stroke="#333" stroke-width="1.1"/>
<text x="1538.3" y="1014.9" text-anchor="middle" style="font-family:'Liberation Sans',Arial,Helvetica,sans-serif;font-size:14.6px" fill="#4d4d4d" stroke="#4d4d4d" stroke-width="0.25">8</text>
<line x1="1576.39" x2="1576.39" y1="999.2" y2="1002" stroke="#333" stroke-width="1.1"/>
<text x="1576.39" y="1014.9" text-anchor="middle" style="font-family:'Liberation Sans',Arial,Helvetica,sans-serif;font-size:14.6px" fill="#4d4d4d" stroke="#4d4d4d" stroke-width="0.25">10</text>
<line x1="1614.48" x2="1614.48" y1="999.2" y2="1002" stroke="#333" stroke-width="1.1"/>
<text x="1614.48" y="1014.9" text-anchor="middle" style="font-family:'Liberation Sans',Arial,Helvetica,sans-serif;font-size:14.6px" fill="#4d4d4d" stroke="#4d4d4d" stroke-width="0.25">12</text>
<line x1="1652.57" x2="1652.57" y1="999.2" y2="1002" stroke="#333" stroke-width="1.1"/>
<text x="1652.57" y="1014.9" text-anchor="middle" style="font-family:'Liberation Sans',Arial,Helvetica,sans-serif;font-size:14.6px" fill="#4d4d4d" stroke="#4d4d4d" stroke-width="0.25">14</text>
<line x1="1693.03" x2="1693.03" y1="999.2" y2="1002" stroke="#333" stroke-width="1.1"/>
<text x="1693.03" y="1014.9" text-anchor="middle" style="font-family:'Liberation Sans',Arial,Helvetica,sans-serif;font-size:14.6px" fill="#4d4d4d" stroke="#4d4d4d" stroke-width="0.25">0</text>
<line x1="1731.12" x2="1731.12" y1="999.2" y2="1002" stroke="#333" stroke-width="1.1"/>
<text x="1731.12" y="1014.9" text-anchor="middle" style="font-family:'Liberation Sans',Arial,Helvetica,sans-serif;font-size:14.6px" fill="#4d4d4d" stroke="#4d4d4d" stroke-width="0.25">2</text>
<line x1="1769.21" x2="1769.21" y1="999.2" y2="1002" stroke="#333" stroke-width="1.1"/>
<text x="1769.21" y="1014.9" text-anchor="middle" style="font-family:'Liberation Sans',Arial,Helvetica,sans-serif;font-size:14.6px" fill="#4d4d4d" stroke="#4d4d4d" stroke-width="0.25">4</text>
<line x1="1807.3" x2="1807.3" y1="999.2" y2="1002" stroke="#333" stroke-width="1.1"/>
<text x="1807.3" y="1014.9" text-anchor="middle" style="font-family:'Liberation Sans',Arial,Helvetica,sans-serif;font-size:14.6px" fill="#4d4d4d" stroke="#4d4d4d" stroke-width="0.25">6</text>
<line x1="1845.4" x2="1845.4" y1="999.2" y2="1002" stroke="#333" stroke-width="1.1"/>
<text x="1845.4" y="1014.9" text-anchor="middle" style="font-family:'Liberation Sans',Arial,Helvetica,sans-serif;font-size:14.6px" fill="#4d4d4d" stroke="#4d4d4d" stroke-width="0.25">8</text>
<line x1="1883.49" x2="1883.49" y1="999.2" y2="1002" stroke="#333" stroke-width="1.1"/>
<text x="1883.49" y="1014.9" text-anchor="middle" style="font-family:'Liberation Sans',Arial,Helvetica,sans-serif;font-size:14.6px" fill="#4d4d4d" stroke="#4d4d4d" stroke-width="0.25">10</text>
<line x1="1921.58" x2="1921.58" y1="999.2" y2="1002" stroke="#333" stroke-width="1.1"/>
<text x="1921.58" y="1014.9" text-anchor="middle" style="font-family:'Liberation Sans',Arial,Helvetica,sans-serif;font-size:14.6px" fill="#4d4d4d" stroke="#4d4d4d" stroke-width="0.25">12</text>
<line x1="1959.67" x2="1959.67" y1="999.2" y2="1002" stroke="#333" stroke-width="1.1"/>
<text x="1959.67" y="1014.9" text-anchor="middle" style="font-family:'Liberation Sans',Arial,Helvetica,sans-serif;font-size:14.6px" fill="#4d4d4d" stroke="#4d4d4d" stroke-width="0.25">14</text>
<text x="1519.25" y="1034.4" text-anchor="middle" style="font-family:'Liberation Sans',Arial,Helvetica,sans-serif;font-size:20px" fill="#000" stroke="#000" stroke-width="0.3">Lag (d)</text>
<text x="0" y="0" text-anchor="middle" transform="translate(1027.7 520.65) rotate(-90)" style="font-family:'Liberation Sans',Arial,Helvetica,sans-serif;font-size:19.5px" fill="#000" stroke="#000" stroke-width="0.3">Relative risks</text>
</svg>
</body></html>
